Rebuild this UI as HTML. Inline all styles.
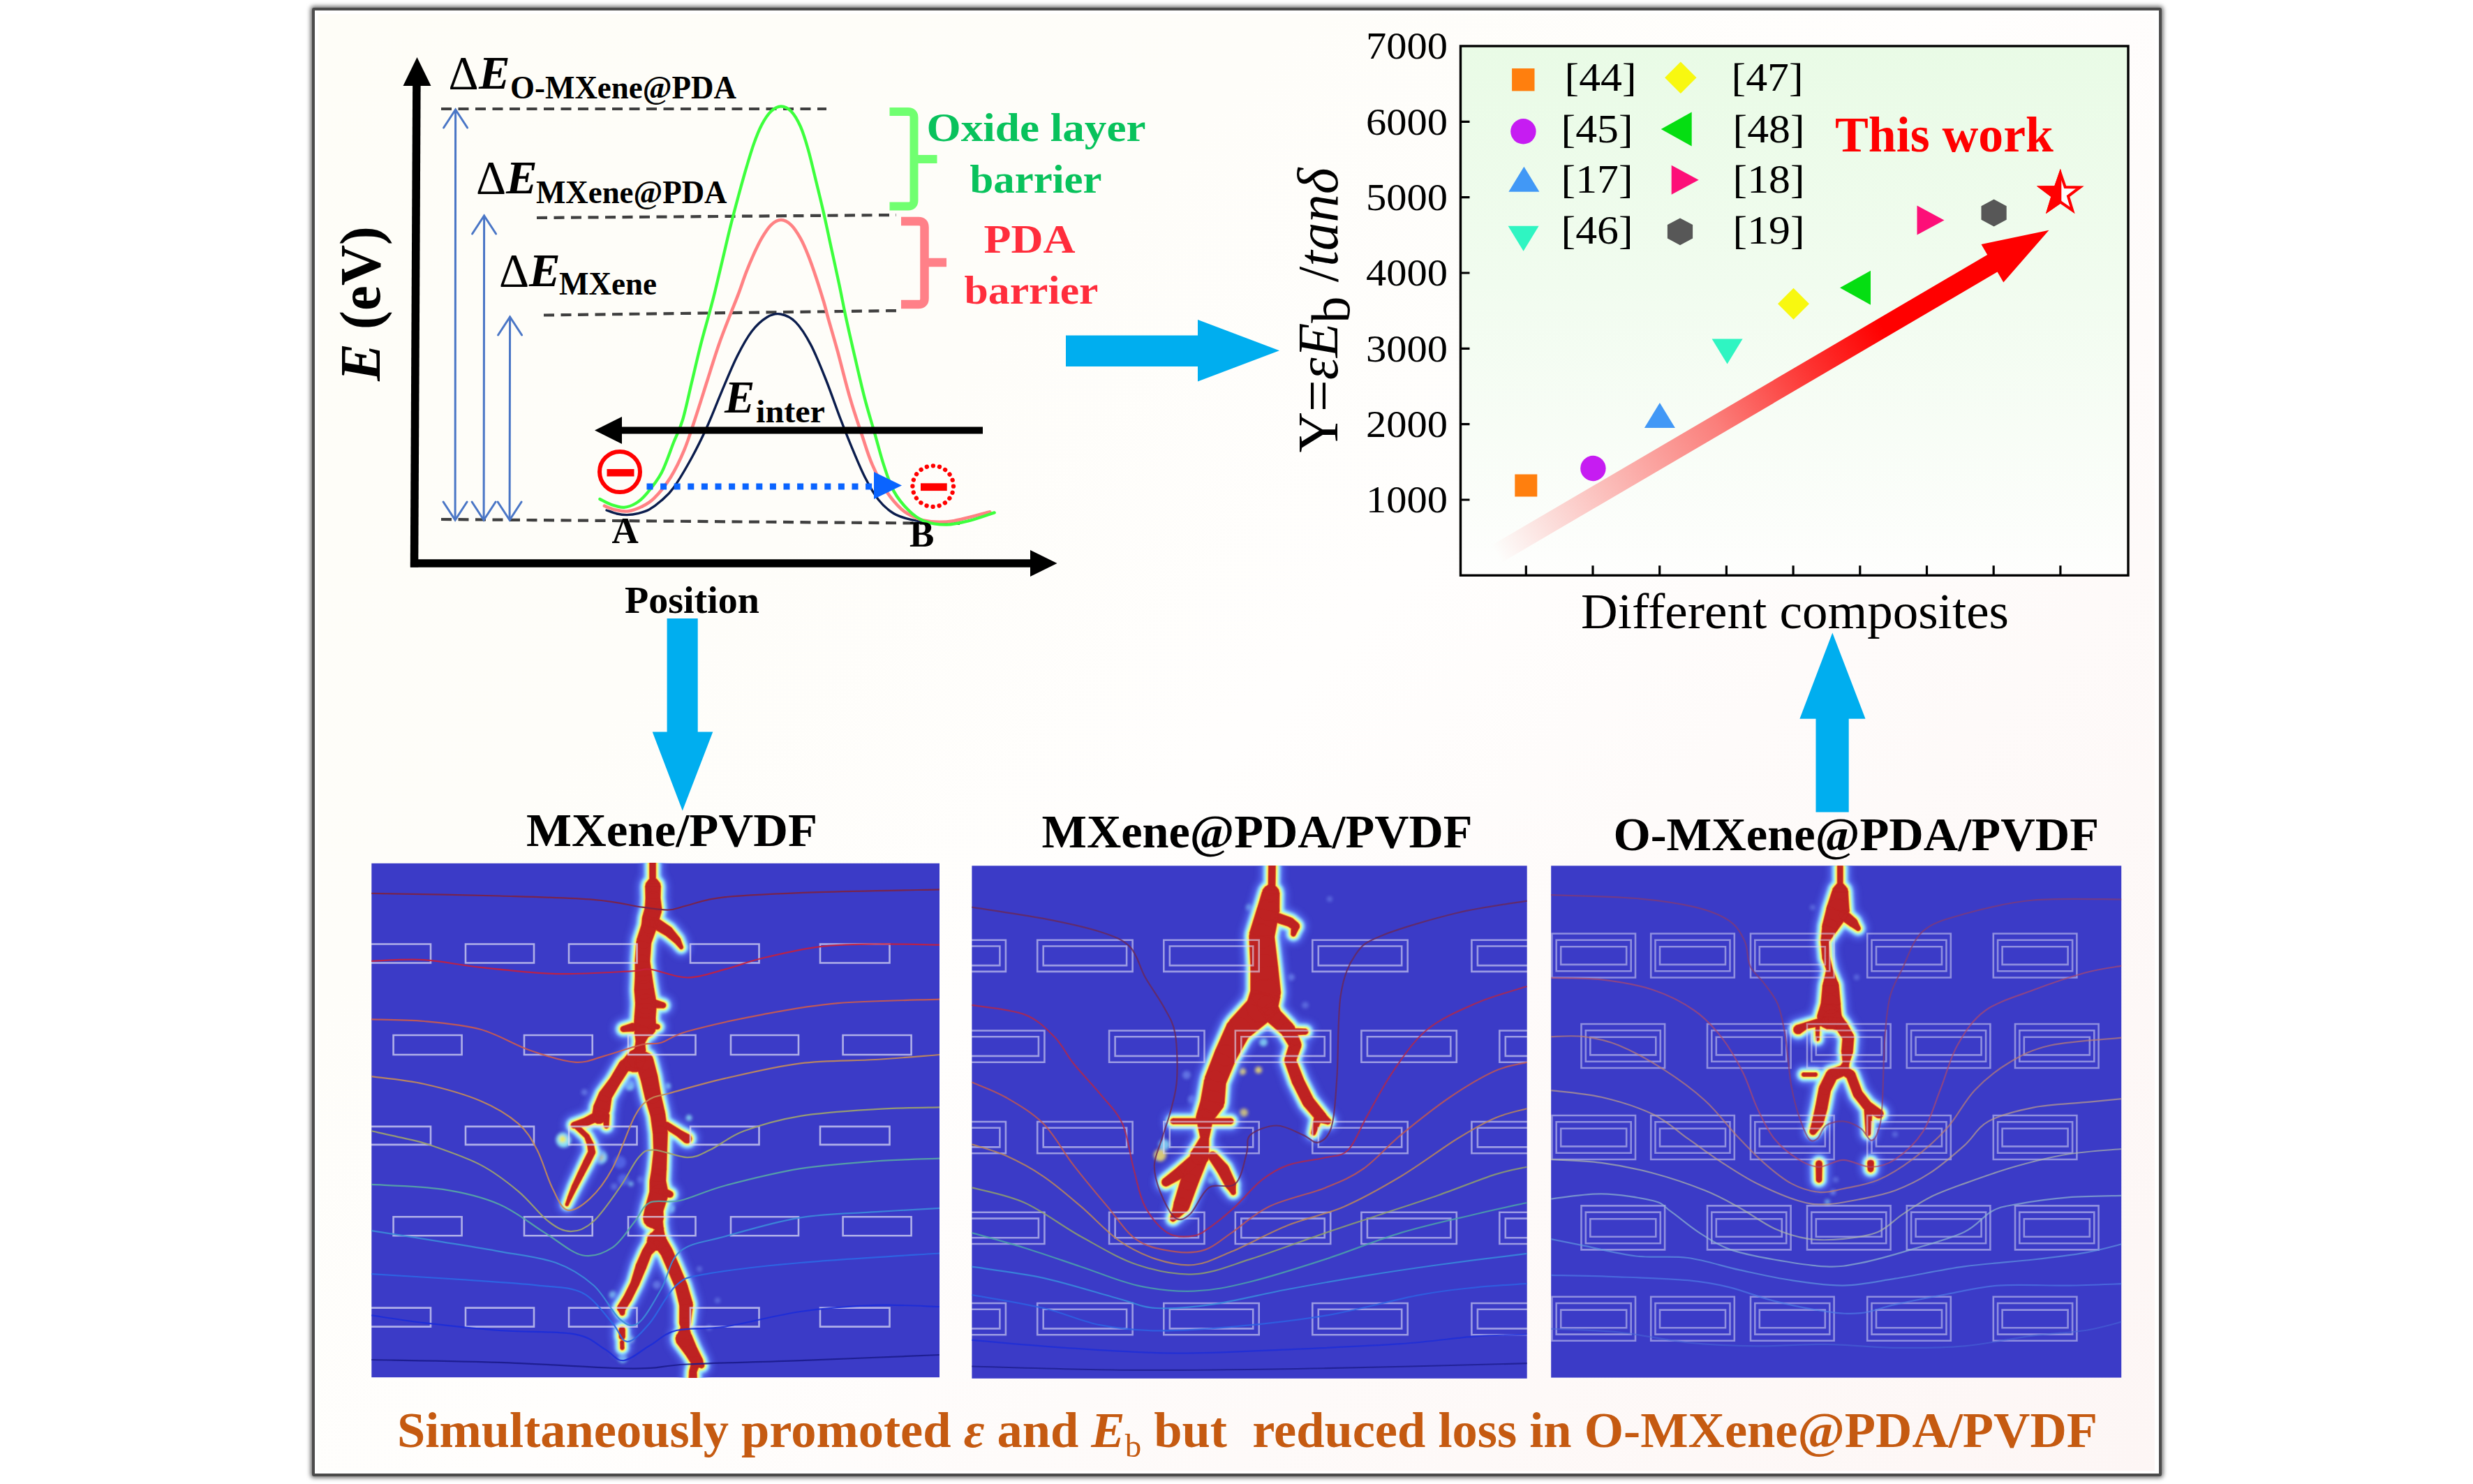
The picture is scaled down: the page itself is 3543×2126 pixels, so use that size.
<!DOCTYPE html>
<html><head><meta charset="utf-8"><title>Graphical abstract</title>
<style>
html,body{margin:0;padding:0;background:#fff;}
body{width:3543px;height:2126px;position:relative;overflow:hidden;font-family:"Liberation Serif",serif;}
#frame{position:absolute;left:447px;top:11px;width:2642px;height:2096px;border:4px solid #4b4b4b;border-radius:3px;background:#fff;box-shadow:0 0 6px 1.5px rgba(0,0,0,.6);}
#inner{position:absolute;left:456px;top:20px;width:2631px;height:2087px;background:linear-gradient(135deg,#fefdf7 0%,#fefdf9 30%,#fffefd 50%,#fefbfa 65%,#fdf6f5 100%);}
svg{position:absolute;left:0;top:0;}
text{font-family:"Liberation Serif",serif;}
.b{font-weight:bold;}
.i{font-style:italic;}
</style></head><body>
<div id="frame"></div><div id="inner"></div>
<svg width="3543" height="2126" viewBox="0 0 3543 2126">

<defs>
<linearGradient id="gchart" x1="0" y1="0" x2="0" y2="1"><stop offset="0" stop-color="#e9fbe6"/><stop offset="0.45" stop-color="#f1fcef"/><stop offset="1" stop-color="#fefefd"/></linearGradient>
<linearGradient id="gred" gradientUnits="userSpaceOnUse" x1="2144" y1="794" x2="2935" y2="330"><stop offset="0" stop-color="#ff0000" stop-opacity="0"/><stop offset="0.1" stop-color="#ff0000" stop-opacity="0.13"/><stop offset="0.4" stop-color="#ff0000" stop-opacity="0.5"/><stop offset="0.57" stop-color="#ff0000" stop-opacity="0.8"/><stop offset="0.7" stop-color="#ff0000" stop-opacity="1"/><stop offset="1" stop-color="#ff0000" stop-opacity="1"/></linearGradient>
<filter id="blur6" x="-20%" y="-20%" width="140%" height="140%"><feGaussianBlur stdDeviation="5"/></filter>
<filter id="blur3" x="-20%" y="-20%" width="140%" height="140%"><feGaussianBlur stdDeviation="2.2"/></filter>
<filter id="blur1" x="-20%" y="-20%" width="140%" height="140%"><feGaussianBlur stdDeviation="1.1"/></filter>
<filter id="soft" x="-5%" y="-5%" width="110%" height="110%"><feGaussianBlur stdDeviation="0.7"/></filter>
</defs>
<g id="energy">
<path d="M632 156 L1184 156" stroke="#3f3f3f" stroke-width="4.2" stroke-dasharray="15 9.5" fill="none"/>
<path d="M769 312 L1284 308" stroke="#3f3f3f" stroke-width="4.2" stroke-dasharray="15 9.5" fill="none"/>
<path d="M779 451.5 L1287 445" stroke="#3f3f3f" stroke-width="4.2" stroke-dasharray="15 9.5" fill="none"/>
<path d="M632 744 L1375 750" stroke="#3f3f3f" stroke-width="4.2" stroke-dasharray="15 9.5" fill="none"/>
<path d="M869.0 731.0C871.5 731.8 879.1 734.9 884.0 736.0C888.9 737.1 893.0 737.7 898.2 737.6C903.4 737.5 909.7 736.6 915.0 735.3C920.3 734.0 924.7 733.0 930.0 730.0C935.3 727.0 941.2 722.7 947.0 717.5C952.8 712.3 957.7 709.1 965.0 698.8C972.3 688.5 983.1 670.1 991.0 655.7C998.9 641.3 1005.3 628.3 1012.5 612.5C1019.7 596.7 1026.8 577.7 1034.0 560.8C1041.2 543.9 1048.5 525.6 1055.7 511.2C1062.9 496.8 1070.0 483.9 1077.2 474.5C1084.4 465.1 1092.0 458.6 1098.8 454.5C1105.6 450.4 1111.3 448.8 1118.2 450.0C1125.1 451.2 1132.8 454.3 1140.0 461.6C1147.2 468.9 1154.4 480.2 1161.6 493.9C1168.8 507.5 1175.9 525.5 1183.1 543.5C1190.3 561.5 1198.2 584.8 1204.7 601.7C1211.2 618.6 1216.2 631.2 1222.0 644.9C1227.8 658.6 1233.1 671.9 1239.2 683.7C1245.3 695.6 1251.8 707.4 1258.6 716.0C1265.4 724.6 1272.7 730.8 1280.2 735.5C1287.8 740.2 1294.9 742.0 1303.9 744.1C1312.9 746.2 1323.7 748.0 1334.0 748.4C1344.3 748.8 1352.3 748.9 1366.0 746.5C1379.7 744.1 1407.7 736.1 1416.0 734.0" fill="none" stroke="#0b1d4d" stroke-width="3.4" stroke-linecap="round"/>
<path d="M865.9 724.7C868.6 725.7 876.2 729.2 882.0 730.5C887.8 731.8 894.2 733.0 900.4 732.2C906.6 731.5 912.9 729.0 919.0 726.0C925.1 723.0 930.0 720.9 937.0 713.9C944.0 706.9 953.6 695.2 960.8 683.7C968.0 672.2 974.5 658.6 980.2 644.9C986.0 631.2 989.9 617.9 995.3 601.7C1000.7 585.5 1006.8 565.8 1012.5 547.8C1018.2 529.8 1024.1 510.3 1029.8 493.9C1035.5 477.5 1042.0 461.6 1046.7 449.5C1051.4 437.4 1054.1 431.3 1057.8 421.4C1061.5 411.5 1065.3 399.8 1069.0 390.2C1072.7 380.6 1076.4 371.8 1080.1 363.6C1083.8 355.5 1087.1 348.2 1091.2 341.3C1095.3 334.4 1100.0 326.7 1104.6 322.3C1109.2 317.9 1114.2 315.0 1119.0 315.0C1123.8 315.0 1128.9 317.9 1133.5 322.3C1138.1 326.7 1142.7 334.1 1146.8 341.3C1150.9 348.6 1154.2 356.5 1157.9 365.8C1161.6 375.1 1165.3 385.8 1169.0 396.9C1172.7 408.0 1177.2 422.5 1180.2 432.5C1183.2 442.5 1183.4 445.0 1186.8 457.0C1190.2 469.0 1195.3 486.0 1200.4 504.7C1205.5 523.4 1211.8 549.6 1217.6 569.4C1223.3 589.2 1229.5 607.1 1234.9 623.3C1240.3 639.5 1244.2 653.1 1250.0 666.4C1255.8 679.7 1262.6 692.7 1269.4 703.1C1276.2 713.5 1283.8 722.5 1291.0 729.0C1298.2 735.5 1305.3 739.0 1312.5 742.0C1319.7 745.0 1325.0 746.6 1334.0 747.3C1343.0 748.0 1352.4 748.5 1366.4 746.2C1380.4 743.9 1409.6 735.4 1418.2 733.3" fill="none" stroke="#ff8284" stroke-width="4.6" stroke-linecap="round"/>
<path d="M859.4 715.0C862.2 716.3 870.2 721.0 876.0 723.0C881.8 725.0 888.2 727.1 894.0 726.8C899.8 726.5 905.6 724.2 911.0 721.0C916.4 717.8 920.2 714.7 926.3 707.4C932.4 700.1 941.3 689.4 947.8 677.2C954.2 665.0 960.0 646.6 965.0 634.0C970.0 621.4 973.7 616.1 978.0 601.7C982.3 587.3 986.7 565.8 991.0 547.8C995.3 529.8 999.6 510.8 1003.9 493.9C1008.2 477.0 1013.4 459.3 1016.8 446.5C1020.2 433.7 1021.4 429.6 1024.5 416.9C1027.6 404.2 1031.9 385.8 1035.6 370.2C1039.3 354.6 1043.0 338.3 1046.7 323.5C1050.4 308.7 1054.1 294.9 1057.8 281.2C1061.5 267.5 1065.3 253.8 1069.0 241.2C1072.7 228.6 1076.4 216.0 1080.1 205.6C1083.8 195.2 1087.1 186.6 1091.2 178.9C1095.3 171.2 1100.0 163.9 1104.6 159.5C1109.2 155.1 1114.2 152.3 1119.0 152.3C1123.8 152.3 1128.9 154.7 1133.5 159.5C1138.1 164.3 1142.7 172.0 1146.8 181.2C1150.9 190.4 1154.2 201.5 1157.9 214.5C1161.6 227.5 1165.3 243.8 1169.0 259.0C1172.7 274.2 1176.5 289.4 1180.2 305.7C1183.9 322.0 1187.6 339.8 1191.3 356.9C1195.0 373.9 1198.9 391.3 1202.4 408.0C1205.9 424.7 1208.9 440.9 1212.4 457.0C1215.9 473.1 1218.9 486.0 1223.2 504.7C1227.5 523.4 1233.4 549.6 1238.5 569.4C1243.6 589.2 1249.3 607.1 1253.9 623.3C1258.5 639.5 1261.8 653.1 1266.2 666.4C1270.6 679.7 1274.3 692.3 1280.2 703.1C1286.1 713.9 1294.5 723.9 1301.7 731.1C1308.9 738.3 1314.3 742.8 1323.3 746.2C1332.3 749.6 1344.9 751.6 1355.7 751.6C1366.5 751.6 1376.5 749.1 1388.0 746.2C1399.5 743.3 1418.6 736.4 1424.7 734.4" fill="none" stroke="#3dff3d" stroke-width="4.3" stroke-linecap="round"/>
<path d="M597 100 L593.5 812.5" stroke="#000" stroke-width="11.5" fill="none"/>
<path d="M597.5 82 L577.5 123 L617.5 123 Z" fill="#000"/>
<path d="M588 807 L1480 807" stroke="#000" stroke-width="11.5" fill="none"/>
<path d="M1514.5 807 L1476 788 L1476 826 Z" fill="#000"/>
<g stroke="#4a76c6" stroke-width="3" fill="none" stroke-linecap="round" stroke-linejoin="miter"><path d="M652.6 158.0 L652.1 744.0"/><path d="M635.6 183.0 L652.6 157.0 L669.6 183.0"/><path d="M635.1 719.0 L652.1 745.0 L669.1 719.0"/></g>
<g stroke="#4a76c6" stroke-width="3" fill="none" stroke-linecap="round" stroke-linejoin="miter"><path d="M693.6 310.0 L693.1 744.0"/><path d="M676.6 335.0 L693.6 309.0 L710.6 335.0"/><path d="M676.1 719.0 L693.1 745.0 L710.1 719.0"/></g>
<g stroke="#4a76c6" stroke-width="3" fill="none" stroke-linecap="round" stroke-linejoin="miter"><path d="M730.6 455.0 L730.1 744.0"/><path d="M713.6 480.0 L730.6 454.0 L747.6 480.0"/><path d="M713.1 719.0 L730.1 745.0 L747.1 719.0"/></g>
<path d="M888 616.5 L1408 616.5" stroke="#000" stroke-width="10" fill="none"/>
<path d="M852 616.5 L891 597 L891 636 Z" fill="#000"/>
<path d="M926.5 697 L1252 697" stroke="#0a64ff" stroke-width="9" stroke-dasharray="9 10.6" fill="none"/>
<path d="M1252 676 L1292 695.5 L1252 715 Z" fill="#0a64ff"/>
<circle cx="888" cy="676" r="29" fill="none" stroke="#ff0000" stroke-width="6"/>
<rect x="869.5" y="672" width="39" height="10.5" fill="#ff0000"/>
<circle cx="1336.7" cy="696.6" r="29.3" fill="none" stroke="#ff0000" stroke-width="6.3" stroke-dasharray="0.1 9.1" stroke-linecap="round"/>
<rect x="1319" y="692.3" width="37.7" height="10.8" fill="#ff0000"/>
<path d="M1274.5 160 L1301 160 Q1309.5 160 1309.5 168.5 L1309.5 287 Q1309.5 295.5 1301 295.5 L1274.5 295.5 M1309.5 228 L1342.5 228" fill="none" stroke="#70ff70" stroke-width="12" stroke-linejoin="round"/>
<path d="M1291 317 L1316 317 Q1324.5 317 1324.5 325.5 L1324.5 427.5 Q1324.5 436 1316 436 L1291 436 M1324.5 376 L1356 376" fill="none" stroke="#ff8088" stroke-width="12.5" stroke-linejoin="round"/>
<text x="642.6" y="127.0" font-size="67.0" class="" fill="#000" text-anchor="start" >Δ</text><text x="686.0" y="127.0" font-size="67.0" class="b i" fill="#000" text-anchor="start" >E</text><text x="731.0" y="141.0" font-size="46.0" class="b" fill="#000" text-anchor="start" textLength="324.0" lengthAdjust="spacingAndGlyphs" >O-MXene@PDA</text>
<text x="682.0" y="276.6" font-size="67.0" class="" fill="#000" text-anchor="start" >Δ</text><text x="725.0" y="276.6" font-size="67.0" class="b i" fill="#000" text-anchor="start" >E</text><text x="768.0" y="290.5" font-size="46.0" class="b" fill="#000" text-anchor="start" textLength="273.5" lengthAdjust="spacingAndGlyphs" >MXene@PDA</text>
<text x="715.0" y="409.5" font-size="67.0" class="" fill="#000" text-anchor="start" >Δ</text><text x="758.0" y="409.5" font-size="67.0" class="b i" fill="#000" text-anchor="start" >E</text><text x="801.0" y="422.0" font-size="46.0" class="b" fill="#000" text-anchor="start" textLength="140.0" lengthAdjust="spacingAndGlyphs" >MXene</text>
<text x="1038.0" y="591.0" font-size="65.0" class="b i" fill="#000" text-anchor="start" >E</text><text x="1083.0" y="604.7" font-size="46.0" class="b" fill="#000" text-anchor="start" textLength="99.0" lengthAdjust="spacingAndGlyphs" >inter</text>
<text x="876.5" y="777.6" font-size="53.0" class="b" fill="#000" text-anchor="start" >A</text>
<text x="1303.0" y="783.0" font-size="53.0" class="b" fill="#000" text-anchor="start" >B</text>
<text x="895.0" y="878.2" font-size="55.0" class="b" fill="#000" text-anchor="start" textLength="193.0" lengthAdjust="spacingAndGlyphs" >Position</text>
<text x="1327.5" y="201.6" font-size="56.0" class="b" fill="#08c25c" text-anchor="start" textLength="314.0" lengthAdjust="spacingAndGlyphs" xml:space="preserve">Oxide layer</text>
<text x="1389.5" y="276.0" font-size="56.0" class="b" fill="#08c25c" text-anchor="start" textLength="189.0" lengthAdjust="spacingAndGlyphs" >barrier</text>
<text x="1409.5" y="361.5" font-size="56.0" class="b" fill="#ff2d3c" text-anchor="start" textLength="131.0" lengthAdjust="spacingAndGlyphs" >PDA</text>
<text x="1381.5" y="435.0" font-size="56.0" class="b" fill="#ff2d3c" text-anchor="start" textLength="192.0" lengthAdjust="spacingAndGlyphs" >barrier</text>
<text transform="translate(543.5 546) rotate(-90)" font-size="82" class="b" textLength="222" lengthAdjust="spacingAndGlyphs"><tspan class="i">E</tspan> (eV)</text>
</g>
<g id="chart">
<rect x="2092.5" y="66.0" width="956.5" height="758.3" fill="url(#gchart)"/>
<path d="M2151.2 805.9 L2861.6 389.6 L2870.3 404.5 L2935.5 329.8 L2838.5 350.1 L2847.2 365.1 L2136.8 781.3 Z" fill="url(#gred)"/>
<rect x="2092.5" y="66.0" width="956.5" height="758.3" fill="none" stroke="#000" stroke-width="3.4"/>
<path d="M2092.5 716.0 h13 M2092.5 607.6 h13 M2092.5 499.3 h13 M2092.5 391.0 h13 M2092.5 282.7 h13 M2092.5 174.3 h13 M2186.3 824.3 v-14 M2282.0 824.3 v-14 M2377.7 824.3 v-14 M2473.4 824.3 v-14 M2569.1 824.3 v-14 M2664.8 824.3 v-14 M2760.5 824.3 v-14 M2856.2 824.3 v-14 M2951.9 824.3 v-14" stroke="#000" stroke-width="3.2" fill="none"/>
<text x="2074.0" y="734.3" font-size="55.0" class="" fill="#000" text-anchor="end" textLength="117.0" lengthAdjust="spacingAndGlyphs" >1000</text>
<text x="2074.0" y="625.9" font-size="55.0" class="" fill="#000" text-anchor="end" textLength="117.0" lengthAdjust="spacingAndGlyphs" >2000</text>
<text x="2074.0" y="517.6" font-size="55.0" class="" fill="#000" text-anchor="end" textLength="117.0" lengthAdjust="spacingAndGlyphs" >3000</text>
<text x="2074.0" y="409.3" font-size="55.0" class="" fill="#000" text-anchor="end" textLength="117.0" lengthAdjust="spacingAndGlyphs" >4000</text>
<text x="2074.0" y="301.0" font-size="55.0" class="" fill="#000" text-anchor="end" textLength="117.0" lengthAdjust="spacingAndGlyphs" >5000</text>
<text x="2074.0" y="192.6" font-size="55.0" class="" fill="#000" text-anchor="end" textLength="117.0" lengthAdjust="spacingAndGlyphs" >6000</text>
<text x="2074.0" y="84.3" font-size="55.0" class="" fill="#000" text-anchor="end" textLength="117.0" lengthAdjust="spacingAndGlyphs" >7000</text>
<rect x="2170.3" y="679.5" width="32.0" height="32.0" fill="#ff7f0e"/>
<circle cx="2282.4" cy="671.0" r="18.2" fill="#c61cf2"/>
<path d="M2377.9 577.0 L2355.9 613.0 L2399.9 613.0 Z" fill="#4198f6"/>
<path d="M2474.6 521.5 L2452.6 485.5 L2496.6 485.5 Z" fill="#2ff5c2"/>
<path d="M2569.5 412.8 L2592.0 435.3 L2569.5 457.8 L2547.0 435.3 Z" fill="#f8f810"/>
<path d="M2636.0 412.3 L2680.0 387.8 L2680.0 436.8 Z" fill="#05de12"/>
<path d="M2785.5 315.4 L2746.5 294.4 L2746.5 336.4 Z" fill="#fd0f78"/>
<path d="M2856.6 285.6 L2874.7 295.3 L2874.7 314.7 L2856.6 324.4 L2838.5 314.7 L2838.5 295.3 Z" fill="#575757"/>
<clipPath id="sclip"><rect x="2910.3" y="236.0" width="43.0" height="83.0"/></clipPath><path d="M2951.8 248.0 L2958.7 268.0 L2979.9 268.4 L2963.0 281.1 L2969.1 301.4 L2951.8 289.3 L2934.5 301.4 L2940.6 281.1 L2923.7 268.4 L2944.9 268.0 Z" fill="#fdfdfd" stroke="#ff0000" stroke-width="4" stroke-linejoin="miter"/><path d="M2951.8 248.0 L2958.7 268.0 L2979.9 268.4 L2963.0 281.1 L2969.1 301.4 L2951.8 289.3 L2934.5 301.4 L2940.6 281.1 L2923.7 268.4 L2944.9 268.0 Z" fill="#ff0000" stroke="#ff0000" stroke-width="4" clip-path="url(#sclip)"/>
<rect x="2166.1" y="98.0" width="32.4" height="32.4" fill="#ff7f0e"/>
<path d="M2407.8 88.6 L2430.5 111.3 L2407.8 134.0 L2385.1 111.3 Z" fill="#f8f810"/>
<circle cx="2182.4" cy="188.3" r="18.2" fill="#c61cf2"/>
<path d="M2379.7 185.0 L2423.7 160.5 L2423.7 209.5 Z" fill="#05de12"/>
<path d="M2183.4 238.7 L2161.4 274.7 L2205.4 274.7 Z" fill="#4198f6"/>
<path d="M2433.7 257.8 L2394.7 236.8 L2394.7 278.8 Z" fill="#fd0f78"/>
<path d="M2182.6 359.8 L2160.6 323.8 L2204.6 323.8 Z" fill="#2ff5c2"/>
<path d="M2407.0 312.4 L2425.1 322.1 L2425.1 341.5 L2407.0 351.2 L2388.9 341.5 L2388.9 322.1 Z" fill="#575757"/>
<text x="2241.6" y="130.0" font-size="58.0" class="" fill="#000" text-anchor="start" textLength="103.0" lengthAdjust="spacingAndGlyphs" >[44]</text>
<text x="2236.6" y="204.0" font-size="58.0" class="" fill="#000" text-anchor="start" textLength="103.0" lengthAdjust="spacingAndGlyphs" >[45]</text>
<text x="2236.6" y="275.5" font-size="58.0" class="" fill="#000" text-anchor="start" textLength="103.0" lengthAdjust="spacingAndGlyphs" >[17]</text>
<text x="2236.6" y="349.0" font-size="58.0" class="" fill="#000" text-anchor="start" textLength="103.0" lengthAdjust="spacingAndGlyphs" >[46]</text>
<text x="2480.6" y="130.0" font-size="58.0" class="" fill="#000" text-anchor="start" textLength="103.0" lengthAdjust="spacingAndGlyphs" >[47]</text>
<text x="2482.6" y="204.0" font-size="58.0" class="" fill="#000" text-anchor="start" textLength="103.0" lengthAdjust="spacingAndGlyphs" >[48]</text>
<text x="2482.6" y="275.5" font-size="58.0" class="" fill="#000" text-anchor="start" textLength="103.0" lengthAdjust="spacingAndGlyphs" >[18]</text>
<text x="2482.6" y="349.0" font-size="58.0" class="" fill="#000" text-anchor="start" textLength="103.0" lengthAdjust="spacingAndGlyphs" >[19]</text>
<text x="2629.0" y="217.0" font-size="72.0" class="b" fill="#ff0000" text-anchor="start" textLength="313.0" lengthAdjust="spacingAndGlyphs" >This work</text>
<text x="2265.0" y="900.0" font-size="72.0" class="" fill="#000" text-anchor="start" textLength="613.0" lengthAdjust="spacingAndGlyphs" >Different composites</text>
<text transform="translate(1916 648.5) rotate(-90)" font-size="83" textLength="408" lengthAdjust="spacingAndGlyphs">Y=<tspan class="i">εE</tspan><tspan font-size="78" dy="17">b</tspan><tspan dy="-17"> /</tspan><tspan class="i">tanδ</tspan></text>
</g>
<clipPath id="clip1"><rect x="532.3" y="1236.8" width="813.7" height="736.4"/></clipPath>
<rect x="532.3" y="1236.8" width="813.7" height="736.4" fill="#3b3bc7"/>
<g clip-path="url(#clip1)">
<defs><path id="tree1" d="M939.0 1232.0L938.6 1233.7L937.5 1235.1L935.9 1235.9L934.1 1235.9L932.5 1235.1L931.4 1233.7L931.0 1232.0L931.4 1230.3L932.5 1228.9L934.1 1228.1L935.9 1228.1L937.5 1228.9L938.6 1230.3ZM939.0 1232.0L939.0 1262.0L931.0 1262.0L931.0 1232.0ZM939.0 1262.0L938.6 1263.7L937.5 1265.1L935.9 1265.9L934.1 1265.9L932.5 1265.1L931.4 1263.7L931.0 1262.0L931.4 1260.3L932.5 1258.9L934.1 1258.1L935.9 1258.1L937.5 1258.9L938.6 1260.3ZM943.5 1266.0L942.7 1269.5L940.5 1272.3L937.3 1273.8L933.7 1273.8L930.5 1272.3L928.3 1269.5L927.5 1266.0L928.3 1262.5L930.5 1259.7L933.7 1258.2L937.3 1258.2L940.5 1259.7L942.7 1262.5ZM943.5 1266.0L946.0 1270.0L925.0 1270.0L927.5 1266.0ZM946.0 1270.0L945.0 1274.6L942.0 1278.2L937.8 1280.2L933.2 1280.2L929.0 1278.2L926.0 1274.6L925.0 1270.0L926.0 1265.4L929.0 1261.8L933.2 1259.8L937.8 1259.8L942.0 1261.8L945.0 1265.4ZM946.0 1270.0L945.5 1286.6L925.5 1286.6L925.0 1270.0ZM945.5 1286.6L944.5 1290.9L941.7 1294.4L937.7 1296.3L933.3 1296.3L929.3 1294.4L926.5 1290.9L925.5 1286.6L926.5 1282.3L929.3 1278.8L933.3 1276.9L937.7 1276.9L941.7 1278.8L944.5 1282.3ZM945.5 1286.3L947.5 1302.3L924.5 1303.1L925.5 1286.9ZM947.5 1302.7L946.4 1307.7L943.2 1311.7L938.6 1313.9L933.4 1313.9L928.8 1311.7L925.6 1307.7L924.5 1302.7L925.6 1297.7L928.8 1293.7L933.4 1291.5L938.6 1291.5L943.2 1293.7L946.4 1297.7ZM947.1 1305.8L943.1 1320.1L920.9 1313.9L924.9 1299.6ZM943.5 1317.0L942.4 1322.0L939.2 1326.0L934.6 1328.2L929.4 1328.2L924.8 1326.0L921.6 1322.0L920.5 1317.0L921.6 1312.0L924.8 1308.0L929.4 1305.8L934.6 1305.8L939.2 1308.0L942.4 1312.0ZM943.3 1319.3L940.3 1329.1L919.7 1324.9L920.7 1314.7ZM940.5 1327.0L939.5 1331.6L936.5 1335.2L932.3 1337.2L927.7 1337.2L923.5 1335.2L920.5 1331.6L919.5 1327.0L920.5 1322.4L923.5 1318.8L927.7 1316.8L932.3 1316.8L936.5 1318.8L939.5 1322.4ZM939.9 1330.4L931.9 1352.4L912.9 1346.0L920.1 1323.6ZM932.4 1349.2L931.4 1353.5L928.6 1357.0L924.6 1358.9L920.2 1358.9L916.2 1357.0L913.4 1353.5L912.4 1349.2L913.4 1344.9L916.2 1341.4L920.2 1339.5L924.6 1339.5L928.6 1341.4L931.4 1344.9ZM932.4 1349.9L930.4 1378.3L910.4 1376.9L912.4 1348.5ZM930.4 1377.6L929.4 1381.9L926.6 1385.4L922.6 1387.3L918.2 1387.3L914.2 1385.4L911.4 1381.9L910.4 1377.6L911.4 1373.3L914.2 1369.8L918.2 1367.9L922.6 1367.9L926.6 1369.8L929.4 1373.3ZM930.4 1376.9L933.4 1396.9L910.4 1398.7L910.4 1378.3ZM933.4 1397.8L932.3 1402.8L929.1 1406.8L924.5 1409.0L919.3 1409.0L914.7 1406.8L911.5 1402.8L910.4 1397.8L911.5 1392.8L914.7 1388.8L919.3 1386.6L924.5 1386.6L929.1 1388.8L932.3 1392.8ZM933.4 1397.2L936.4 1417.3L909.4 1418.7L910.4 1398.4ZM936.4 1418.0L935.1 1423.9L931.3 1428.6L925.9 1431.2L919.9 1431.2L914.5 1428.6L910.7 1423.9L909.4 1418.0L910.7 1412.1L914.5 1407.4L919.9 1404.8L925.9 1404.8L931.3 1407.4L935.1 1412.1ZM936.3 1416.3L939.9 1436.3L911.1 1440.1L909.5 1419.7ZM940.0 1438.2L938.6 1444.5L934.5 1449.5L928.7 1452.3L922.3 1452.3L916.5 1449.5L912.4 1444.5L911.0 1438.2L912.4 1431.9L916.5 1426.9L922.3 1424.1L928.7 1424.1L934.5 1426.9L938.6 1431.9ZM940.0 1439.3L938.5 1459.5L909.5 1457.3L911.0 1437.1ZM938.5 1458.4L937.1 1464.7L933.0 1469.7L927.2 1472.5L920.8 1472.5L915.0 1469.7L910.9 1464.7L909.5 1458.4L910.9 1452.1L915.0 1447.1L920.8 1444.3L927.2 1444.3L933.0 1447.1L937.1 1452.1ZM938.5 1458.4L939.5 1470.6L908.5 1470.6L909.5 1458.4ZM939.5 1470.6L938.0 1477.3L933.7 1482.7L927.4 1485.7L920.6 1485.7L914.3 1482.7L910.0 1477.3L908.5 1470.6L910.0 1463.9L914.3 1458.5L920.6 1455.5L927.4 1455.5L933.7 1458.5L938.0 1463.9ZM938.1 1477.0L929.6 1483.8L910.4 1475.2L909.9 1464.2ZM930.5 1479.5L929.5 1484.1L926.5 1487.7L922.3 1489.7L917.7 1489.7L913.5 1487.7L910.5 1484.1L909.5 1479.5L910.5 1474.9L913.5 1471.3L917.7 1469.3L922.3 1469.3L926.5 1471.3L929.5 1474.9ZM930.3 1481.6L923.2 1494.0L911.4 1491.6L909.7 1477.4ZM923.3 1492.8L922.7 1495.4L921.0 1497.5L918.6 1498.6L916.0 1498.6L913.6 1497.5L911.9 1495.4L911.3 1492.8L911.9 1490.2L913.6 1488.1L916.0 1487.0L918.6 1487.0L921.0 1488.1L922.7 1490.2ZM923.3 1492.9L924.5 1505.2L909.5 1504.8L911.3 1492.7ZM924.5 1505.0L923.8 1508.3L921.7 1510.9L918.7 1512.3L915.3 1512.3L912.3 1510.9L910.2 1508.3L909.5 1505.0L910.2 1501.7L912.3 1499.1L915.3 1497.7L918.7 1497.7L921.7 1499.1L923.8 1501.7ZM923.9 1507.9L924.5 1522.2L899.5 1511.8L910.1 1502.1ZM925.5 1517.0L924.2 1522.9L920.4 1527.6L915.0 1530.2L909.0 1530.2L903.6 1527.6L899.8 1522.9L898.5 1517.0L899.8 1511.1L903.6 1506.4L909.0 1503.8L915.0 1503.8L920.4 1506.4L924.2 1511.1ZM945.5 1322.0L944.8 1325.3L942.7 1327.9L939.7 1329.3L936.3 1329.3L933.3 1327.9L931.2 1325.3L930.5 1322.0L931.2 1318.7L933.3 1316.1L936.3 1314.7L939.7 1314.7L942.7 1316.1L944.8 1318.7ZM942.0 1315.7L960.5 1328.5L953.5 1339.5L934.0 1328.3ZM963.5 1334.0L962.9 1336.8L961.1 1339.1L958.4 1340.3L955.6 1340.3L952.9 1339.1L951.1 1336.8L950.5 1334.0L951.1 1331.2L952.9 1328.9L955.6 1327.7L958.4 1327.7L961.1 1328.9L962.9 1331.2ZM961.6 1329.4L973.2 1343.8L966.8 1350.2L952.4 1338.6ZM974.5 1347.0L974.1 1349.0L972.8 1350.5L971.0 1351.4L969.0 1351.4L967.2 1350.5L965.9 1349.0L965.5 1347.0L965.9 1345.0L967.2 1343.5L969.0 1342.6L971.0 1342.6L972.8 1343.5L974.1 1345.0ZM973.9 1344.7L977.9 1355.8L974.1 1358.2L966.1 1349.3ZM978.2 1357.0L978.0 1358.0L977.4 1358.8L976.5 1359.2L975.5 1359.2L974.6 1358.8L974.0 1358.0L973.8 1357.0L974.0 1356.0L974.6 1355.2L975.5 1354.8L976.5 1354.8L977.4 1355.2L978.0 1356.0ZM943.5 1438.0L943.0 1440.4L941.4 1442.3L939.2 1443.4L936.8 1443.4L934.6 1442.3L933.0 1440.4L932.5 1438.0L933.0 1435.6L934.6 1433.7L936.8 1432.6L939.2 1432.6L941.4 1433.7L943.0 1435.6ZM939.0 1432.6L950.6 1436.8L949.4 1443.6L937.0 1443.4ZM953.5 1440.2L953.2 1441.7L952.2 1442.9L950.8 1443.6L949.2 1443.6L947.8 1442.9L946.8 1441.7L946.5 1440.2L946.8 1438.7L947.8 1437.5L949.2 1436.8L950.8 1436.8L952.2 1437.5L953.2 1438.7ZM912.2 1471.6L911.7 1474.0L910.1 1475.9L907.9 1477.0L905.5 1477.0L903.3 1475.9L901.7 1474.0L901.2 1471.6L901.7 1469.2L903.3 1467.3L905.5 1466.2L907.9 1466.2L910.1 1467.3L911.7 1469.2ZM907.7 1477.0L893.7 1477.6L892.3 1470.8L905.7 1466.2ZM896.5 1474.2L896.2 1475.7L895.2 1476.9L893.8 1477.6L892.2 1477.6L890.8 1476.9L889.8 1475.7L889.5 1474.2L889.8 1472.7L890.8 1471.5L892.2 1470.8L893.8 1470.8L895.2 1471.5L896.2 1472.7ZM938.5 1470.0L938.1 1472.0L936.8 1473.5L935.0 1474.4L933.0 1474.4L931.2 1473.5L929.9 1472.0L929.5 1470.0L929.9 1468.0L931.2 1466.5L933.0 1465.6L935.0 1465.6L936.8 1466.5L938.1 1468.0ZM934.6 1465.5L942.4 1468.0L941.6 1474.0L933.4 1474.5ZM945.0 1471.0L944.7 1472.3L943.9 1473.3L942.7 1473.9L941.3 1473.9L940.1 1473.3L939.3 1472.3L939.0 1471.0L939.3 1469.7L940.1 1468.7L941.3 1468.1L942.7 1468.1L943.9 1468.7L944.7 1469.7ZM923.5 1521.0L922.1 1527.3L918.0 1532.3L912.2 1535.1L905.8 1535.1L900.0 1532.3L895.9 1527.3L894.5 1521.0L895.9 1514.7L900.0 1509.7L905.8 1506.9L912.2 1506.9L918.0 1509.7L922.1 1514.7ZM914.1 1534.6L897.8 1533.8L892.2 1518.8L903.9 1507.4ZM903.0 1526.3L902.2 1529.8L900.0 1532.6L896.8 1534.1L893.2 1534.1L890.0 1532.6L887.8 1529.8L887.0 1526.3L887.8 1522.8L890.0 1520.0L893.2 1518.5L896.8 1518.5L900.0 1520.0L902.2 1522.8ZM901.8 1530.5L887.4 1552.9L874.6 1545.1L888.2 1522.1ZM888.5 1549.0L887.8 1552.3L885.7 1554.9L882.7 1556.3L879.3 1556.3L876.3 1554.9L874.2 1552.3L873.5 1549.0L874.2 1545.7L876.3 1543.1L879.3 1541.7L882.7 1541.7L885.7 1543.1L887.8 1545.7ZM887.2 1553.2L874.5 1575.0L859.5 1565.0L874.8 1544.8ZM876.0 1570.0L875.1 1573.9L872.6 1577.0L869.0 1578.8L865.0 1578.8L861.4 1577.0L858.9 1573.9L858.0 1570.0L858.9 1566.1L861.4 1563.0L865.0 1561.2L869.0 1561.2L872.6 1563.0L875.1 1566.1ZM875.7 1572.4L873.1 1591.1L850.9 1584.9L858.3 1567.6ZM873.5 1588.0L872.4 1593.0L869.2 1597.0L864.6 1599.2L859.4 1599.2L854.8 1597.0L851.6 1593.0L850.5 1588.0L851.6 1583.0L854.8 1579.0L859.4 1576.8L864.6 1576.8L869.2 1579.0L872.4 1583.0ZM872.9 1591.6L867.0 1603.0L849.0 1597.0L851.1 1584.4ZM867.5 1600.0L866.6 1604.1L863.9 1607.4L860.1 1609.3L855.9 1609.3L852.1 1607.4L849.4 1604.1L848.5 1600.0L849.4 1595.9L852.1 1592.6L855.9 1590.7L860.1 1590.7L863.9 1592.6L866.6 1595.9ZM872.5 1598.0L872.1 1600.0L870.8 1601.5L869.0 1602.4L867.0 1602.4L865.2 1601.5L863.9 1600.0L863.5 1598.0L863.9 1596.0L865.2 1594.5L867.0 1593.6L869.0 1593.6L870.8 1594.5L872.1 1596.0ZM872.5 1597.8L871.8 1612.8L865.8 1613.2L863.5 1598.2ZM871.8 1613.0L871.5 1614.3L870.7 1615.3L869.5 1615.9L868.1 1615.9L866.9 1615.3L866.1 1614.3L865.8 1613.0L866.1 1611.7L866.9 1610.7L868.1 1610.1L869.5 1610.1L870.7 1610.7L871.5 1611.7ZM864.5 1598.0L863.9 1600.8L862.1 1603.1L859.4 1604.3L856.6 1604.3L853.9 1603.1L852.1 1600.8L851.5 1598.0L852.1 1595.2L853.9 1592.9L856.6 1591.7L859.4 1591.7L862.1 1592.9L863.9 1595.2ZM860.9 1603.8L842.5 1611.9L837.5 1602.1L855.1 1592.2ZM845.5 1607.0L845.0 1609.4L843.4 1611.3L841.2 1612.4L838.8 1612.4L836.6 1611.3L835.0 1609.4L834.5 1607.0L835.0 1604.6L836.6 1602.7L838.8 1601.6L841.2 1601.6L843.4 1602.7L845.0 1604.6ZM841.5 1612.3L823.6 1615.8L821.4 1608.2L838.5 1601.7ZM826.5 1612.0L826.1 1613.7L825.0 1615.1L823.4 1615.9L821.6 1615.9L820.0 1615.1L818.9 1613.7L818.5 1612.0L818.9 1610.3L820.0 1608.9L821.6 1608.1L823.4 1608.1L825.0 1608.9L826.1 1610.3ZM829.0 1614.0L828.7 1615.3L827.9 1616.3L826.7 1616.9L825.3 1616.9L824.1 1616.3L823.3 1615.3L823.0 1614.0L823.3 1612.7L824.1 1611.7L825.3 1611.1L826.7 1611.1L827.9 1611.7L828.7 1612.7ZM828.1 1611.8L842.9 1625.7L838.7 1630.1L823.9 1616.2ZM843.8 1627.9L843.5 1629.2L842.7 1630.2L841.5 1630.8L840.1 1630.8L838.9 1630.2L838.1 1629.2L837.8 1627.9L838.1 1626.6L838.9 1625.6L840.1 1625.0L841.5 1625.0L842.7 1625.6L843.5 1626.6ZM843.6 1626.7L849.7 1638.4L842.3 1641.6L838.0 1629.1ZM850.0 1640.0L849.6 1641.7L848.5 1643.1L846.9 1643.9L845.1 1643.9L843.5 1643.1L842.4 1641.7L842.0 1640.0L842.4 1638.3L843.5 1636.9L845.1 1636.1L846.9 1636.1L848.5 1636.9L849.6 1638.3ZM849.9 1639.3L852.2 1650.0L843.4 1651.4L842.1 1640.7ZM852.3 1650.7L851.9 1652.7L850.6 1654.2L848.8 1655.1L846.8 1655.1L845.0 1654.2L843.7 1652.7L843.3 1650.7L843.7 1648.7L845.0 1647.2L846.8 1646.3L848.8 1646.3L850.6 1647.2L851.9 1648.7ZM851.8 1652.7L844.8 1666.7L836.8 1662.7L843.8 1648.7ZM845.3 1664.7L844.9 1666.7L843.6 1668.2L841.8 1669.1L839.8 1669.1L838.0 1668.2L836.7 1666.7L836.3 1664.7L836.7 1662.7L838.0 1661.2L839.8 1660.3L841.8 1660.3L843.6 1661.2L844.9 1662.7ZM844.8 1666.7L835.6 1684.0L828.4 1680.4L836.8 1662.7ZM836.0 1682.2L835.6 1683.9L834.5 1685.3L832.9 1686.1L831.1 1686.1L829.5 1685.3L828.4 1683.9L828.0 1682.2L828.4 1680.5L829.5 1679.1L831.1 1678.3L832.9 1678.3L834.5 1679.1L835.6 1680.5ZM835.6 1684.0L826.4 1701.3L820.2 1698.1L828.4 1680.4ZM826.8 1699.7L826.5 1701.2L825.5 1702.4L824.1 1703.1L822.5 1703.1L821.1 1702.4L820.1 1701.2L819.8 1699.7L820.1 1698.2L821.1 1697.0L822.5 1696.3L824.1 1696.3L825.5 1697.0L826.5 1698.2ZM826.5 1701.1L818.6 1716.5L814.0 1714.5L820.1 1698.3ZM818.8 1715.5L818.6 1716.6L817.9 1717.5L816.9 1717.9L815.7 1717.9L814.7 1717.5L814.0 1716.6L813.8 1715.5L814.0 1714.4L814.7 1713.5L815.7 1713.1L816.9 1713.1L817.9 1713.5L818.6 1714.4ZM818.6 1716.4L813.8 1726.2L810.6 1724.8L814.0 1714.6ZM814.0 1725.5L813.8 1726.3L813.3 1726.9L812.6 1727.2L811.8 1727.2L811.1 1726.9L810.6 1726.3L810.5 1725.5L810.6 1724.7L811.1 1724.1L811.8 1723.8L812.6 1723.8L813.3 1724.1L813.8 1724.7ZM925.5 1517.0L924.2 1522.9L920.4 1527.6L915.0 1530.2L909.0 1530.2L903.6 1527.6L899.8 1522.9L898.5 1517.0L899.8 1511.1L903.6 1506.4L909.0 1503.8L915.0 1503.8L920.4 1506.4L924.2 1511.1ZM915.6 1504.0L926.3 1507.9L919.7 1532.1L908.4 1530.0ZM935.5 1520.0L934.3 1525.4L930.8 1529.8L925.8 1532.2L920.2 1532.2L915.2 1529.8L911.7 1525.4L910.5 1520.0L911.7 1514.6L915.2 1510.2L920.2 1507.8L925.8 1507.8L930.8 1510.2L934.3 1514.6ZM935.0 1516.5L941.3 1540.5L918.7 1547.1L911.0 1523.5ZM941.8 1543.8L940.6 1548.9L937.3 1553.0L932.6 1555.3L927.4 1555.3L922.7 1553.0L919.4 1548.9L918.2 1543.8L919.4 1538.7L922.7 1534.6L927.4 1532.3L932.6 1532.3L937.3 1534.6L940.6 1538.7ZM941.5 1541.4L946.2 1567.8L924.6 1572.2L918.5 1546.2ZM946.4 1570.0L945.3 1574.8L942.3 1578.6L937.8 1580.7L933.0 1580.7L928.5 1578.6L925.5 1574.8L924.4 1570.0L925.5 1565.2L928.5 1561.4L933.0 1559.3L937.8 1559.3L942.3 1561.4L945.3 1565.2ZM946.0 1567.2L952.1 1593.8L932.7 1599.0L924.8 1572.8ZM952.4 1596.4L951.4 1600.7L948.6 1604.2L944.6 1606.1L940.2 1606.1L936.2 1604.2L933.4 1600.7L932.4 1596.4L933.4 1592.1L936.2 1588.6L940.2 1586.7L944.6 1586.7L948.6 1588.6L951.4 1592.1ZM952.3 1595.0L955.9 1621.2L936.1 1624.0L932.5 1597.8ZM956.0 1622.6L955.0 1626.9L952.2 1630.4L948.2 1632.3L943.8 1632.3L939.8 1630.4L937.0 1626.9L936.0 1622.6L937.0 1618.3L939.8 1614.8L943.8 1612.9L948.2 1612.9L952.2 1614.8L955.0 1618.3ZM956.0 1622.6L955.0 1649.0L937.0 1649.0L936.0 1622.6ZM955.0 1649.0L954.1 1652.9L951.6 1656.0L948.0 1657.8L944.0 1657.8L940.4 1656.0L937.9 1652.9L937.0 1649.0L937.9 1645.1L940.4 1642.0L944.0 1640.2L948.0 1640.2L951.6 1642.0L954.1 1645.1ZM955.0 1649.6L954.2 1675.9L934.2 1674.5L937.0 1648.4ZM954.2 1675.2L953.2 1679.5L950.4 1683.0L946.4 1684.9L942.0 1684.9L938.0 1683.0L935.2 1679.5L934.2 1675.2L935.2 1670.9L938.0 1667.4L942.0 1665.5L946.4 1665.5L950.4 1667.4L953.2 1670.9ZM954.1 1676.2L953.3 1693.8L931.5 1691.6L934.3 1674.2ZM953.4 1692.7L952.3 1697.5L949.3 1701.3L944.8 1703.4L940.0 1703.4L935.5 1701.3L932.5 1697.5L931.4 1692.7L932.5 1687.9L935.5 1684.1L940.0 1682.0L944.8 1682.0L949.3 1684.1L952.3 1687.9ZM953.4 1691.7L956.9 1708.8L931.1 1711.2L931.4 1693.7ZM957.0 1710.0L955.7 1715.6L952.1 1720.2L946.9 1722.7L941.1 1722.7L935.9 1720.2L932.3 1715.6L931.0 1710.0L932.3 1704.4L935.9 1699.8L941.1 1697.3L946.9 1697.3L952.1 1699.8L955.7 1704.4ZM956.4 1713.8L949.0 1736.6L925.0 1729.4L931.6 1706.2ZM949.5 1733.0L948.3 1738.4L944.8 1742.8L939.8 1745.2L934.2 1745.2L929.2 1742.8L925.7 1738.4L924.5 1733.0L925.7 1727.6L929.2 1723.2L934.2 1720.8L939.8 1720.8L944.8 1723.2L948.3 1727.6ZM949.5 1734.0L950.0 1746.2L922.0 1743.8L924.5 1732.0ZM950.0 1745.0L948.6 1751.1L944.7 1755.9L939.1 1758.6L932.9 1758.6L927.3 1755.9L923.4 1751.1L922.0 1745.0L923.4 1738.9L927.3 1734.1L932.9 1731.4L939.1 1731.4L944.7 1734.1L948.6 1738.9ZM947.9 1737.7L949.7 1757.7L941.1 1762.9L924.1 1752.3ZM950.4 1760.3L949.9 1762.5L948.5 1764.2L946.5 1765.2L944.3 1765.2L942.3 1764.2L940.9 1762.5L940.4 1760.3L940.9 1758.1L942.3 1756.4L944.3 1755.4L946.5 1755.4L948.5 1756.4L949.9 1758.1ZM950.2 1761.5L954.1 1781.1L927.9 1774.5L940.6 1759.1ZM954.5 1777.8L953.2 1783.7L949.4 1788.4L944.0 1791.0L938.0 1791.0L932.6 1788.4L928.8 1783.7L927.5 1777.8L928.8 1771.9L932.6 1767.2L938.0 1764.6L944.0 1764.6L949.4 1767.2L953.2 1771.9ZM959.2 1612.1L958.8 1614.1L957.5 1615.6L955.7 1616.5L953.7 1616.5L951.9 1615.6L950.6 1614.1L950.2 1612.1L950.6 1610.1L951.9 1608.6L953.7 1607.7L955.7 1607.7L957.5 1608.6L958.8 1610.1ZM957.1 1608.3L974.4 1619.2L969.6 1626.8L952.3 1615.9ZM976.5 1623.0L976.1 1625.0L974.8 1626.5L973.0 1627.4L971.0 1627.4L969.2 1626.5L967.9 1625.0L967.5 1623.0L967.9 1621.0L969.2 1619.5L971.0 1618.6L973.0 1618.6L974.8 1619.5L976.1 1621.0ZM974.5 1619.3L987.8 1626.4L981.2 1636.4L969.5 1626.7ZM990.5 1631.4L989.9 1634.0L988.2 1636.1L985.8 1637.2L983.2 1637.2L980.8 1636.1L979.1 1634.0L978.5 1631.4L979.1 1628.8L980.8 1626.7L983.2 1625.6L985.8 1625.6L988.2 1626.7L989.9 1628.8ZM956.5 1708.0L955.9 1710.8L954.1 1713.1L951.4 1714.3L948.6 1714.3L945.9 1713.1L944.1 1710.8L943.5 1708.0L944.1 1705.2L945.9 1702.9L948.6 1701.7L951.4 1701.7L954.1 1702.9L955.9 1705.2ZM951.9 1701.8L961.1 1707.2L958.9 1714.8L948.1 1714.2ZM964.0 1711.0L963.6 1712.7L962.5 1714.1L960.9 1714.9L959.1 1714.9L957.5 1714.1L956.4 1712.7L956.0 1711.0L956.4 1709.3L957.5 1707.9L959.1 1707.1L960.9 1707.1L962.5 1707.9L963.6 1709.3ZM944.5 1782.0L943.7 1785.7L941.3 1788.6L937.9 1790.3L934.1 1790.3L930.7 1788.6L928.3 1785.7L927.5 1782.0L928.3 1778.3L930.7 1775.4L934.1 1773.7L937.9 1773.7L941.3 1775.4L943.7 1778.3ZM942.7 1787.2L932.1 1797.6L921.9 1789.6L929.3 1776.8ZM933.5 1793.6L932.9 1796.4L931.1 1798.7L928.4 1799.9L925.6 1799.9L922.9 1798.7L921.1 1796.4L920.5 1793.6L921.1 1790.8L922.9 1788.5L925.6 1787.3L928.4 1787.3L931.1 1788.5L932.9 1790.8ZM933.0 1796.1L924.8 1817.3L911.8 1811.9L921.0 1791.1ZM925.3 1814.6L924.6 1817.6L922.7 1820.1L919.9 1821.4L916.7 1821.4L913.9 1820.1L912.0 1817.6L911.3 1814.6L912.0 1811.6L913.9 1809.1L916.7 1807.8L919.9 1807.8L922.7 1809.1L924.6 1811.6ZM924.9 1817.0L914.7 1840.9L904.3 1837.1L911.7 1812.2ZM915.0 1839.0L914.5 1841.4L912.9 1843.3L910.7 1844.4L908.3 1844.4L906.1 1843.3L904.5 1841.4L904.0 1839.0L904.5 1836.6L906.1 1834.7L908.3 1833.6L910.7 1833.6L912.9 1834.7L914.5 1836.6ZM914.4 1841.5L903.9 1862.5L894.1 1857.5L904.6 1836.5ZM904.5 1860.0L904.0 1862.4L902.4 1864.3L900.2 1865.4L897.8 1865.4L895.6 1864.3L894.0 1862.4L893.5 1860.0L894.0 1857.6L895.6 1855.7L897.8 1854.6L900.2 1854.6L902.4 1855.7L904.0 1857.6ZM903.7 1862.9L895.0 1876.9L885.6 1871.1L894.3 1857.1ZM895.8 1874.0L895.3 1876.4L893.7 1878.3L891.5 1879.4L889.1 1879.4L886.9 1878.3L885.3 1876.4L884.8 1874.0L885.3 1871.6L886.9 1869.7L889.1 1868.6L891.5 1868.6L893.7 1869.7L895.3 1871.6ZM895.7 1873.1L894.5 1880.5L888.5 1881.5L884.9 1874.9ZM894.5 1881.0L894.2 1882.3L893.4 1883.3L892.2 1883.9L890.8 1883.9L889.6 1883.3L888.8 1882.3L888.5 1881.0L888.8 1879.7L889.6 1878.7L890.8 1878.1L892.2 1878.1L893.4 1878.7L894.2 1879.7ZM955.5 1780.0L954.6 1784.1L951.9 1787.4L948.1 1789.3L943.9 1789.3L940.1 1787.4L937.4 1784.1L936.5 1780.0L937.4 1775.9L940.1 1772.6L943.9 1770.7L948.1 1770.7L951.9 1772.6L954.6 1775.9ZM953.9 1774.8L961.9 1789.0L948.1 1798.2L938.1 1785.2ZM963.2 1793.6L962.4 1797.2L960.1 1800.1L956.8 1801.6L953.2 1801.6L949.9 1800.1L947.6 1797.2L946.8 1793.6L947.6 1790.0L949.9 1787.1L953.2 1785.6L956.8 1785.6L960.1 1787.1L962.4 1790.0ZM962.6 1790.3L973.2 1814.7L958.0 1821.3L947.4 1796.9ZM973.9 1818.0L973.0 1821.6L970.7 1824.5L967.4 1826.0L963.8 1826.0L960.5 1824.5L958.2 1821.6L957.4 1818.0L958.2 1814.4L960.5 1811.5L963.8 1810.0L967.4 1810.0L970.7 1811.5L973.0 1814.4ZM973.2 1814.8L983.6 1839.4L968.4 1845.8L958.0 1821.2ZM984.2 1842.6L983.4 1846.2L981.1 1849.1L977.8 1850.6L974.2 1850.6L970.9 1849.1L968.6 1846.2L967.8 1842.6L968.6 1839.0L970.9 1836.1L974.2 1834.6L977.8 1834.6L981.1 1836.1L983.4 1839.0ZM984.0 1840.5L991.7 1866.6L974.3 1871.2L968.0 1844.7ZM992.0 1868.9L991.1 1872.8L988.6 1875.9L985.0 1877.7L981.0 1877.7L977.4 1875.9L974.9 1872.8L974.0 1868.9L974.9 1865.0L977.4 1861.9L981.0 1860.1L985.0 1860.1L988.6 1861.9L991.1 1865.0ZM992.0 1869.5L988.9 1895.5L973.9 1894.5L974.0 1868.3ZM988.9 1895.0L988.2 1898.3L986.1 1900.9L983.1 1902.3L979.7 1902.3L976.7 1900.9L974.6 1898.3L973.9 1895.0L974.6 1891.7L976.7 1889.1L979.7 1887.7L983.1 1887.7L986.1 1889.1L988.2 1891.7ZM988.9 1895.0L986.9 1902.0L975.9 1902.0L973.9 1895.0ZM986.9 1902.0L986.4 1904.4L984.8 1906.3L982.6 1907.4L980.2 1907.4L978.0 1906.3L976.4 1904.4L975.9 1902.0L976.4 1899.6L978.0 1897.7L980.2 1896.6L982.6 1896.6L984.8 1897.7L986.4 1899.6ZM986.9 1902.5L991.5 1919.0L968.5 1917.0L975.9 1901.5ZM991.5 1918.0L990.4 1923.0L987.2 1927.0L982.6 1929.2L977.4 1929.2L972.8 1927.0L969.6 1923.0L968.5 1918.0L969.6 1913.0L972.8 1909.0L977.4 1906.8L982.6 1906.8L987.2 1909.0L990.4 1913.0ZM990.0 1912.3L997.8 1930.9L982.2 1939.9L970.0 1923.7ZM999.0 1935.4L998.1 1939.3L995.6 1942.4L992.0 1944.2L988.0 1944.2L984.4 1942.4L981.9 1939.3L981.0 1935.4L981.9 1931.5L984.4 1928.4L988.0 1926.6L992.0 1926.6L995.6 1928.4L998.1 1931.5ZM997.8 1930.9L1005.8 1947.0L992.0 1955.0L982.2 1939.9ZM1006.9 1951.0L1006.1 1954.5L1003.9 1957.3L1000.7 1958.8L997.1 1958.8L993.9 1957.3L991.7 1954.5L990.9 1951.0L991.7 1947.5L993.9 1944.7L997.1 1943.2L1000.7 1943.2L1003.9 1944.7L1006.1 1947.5ZM1004.0 1944.8L1007.2 1953.3L1002.8 1958.7L993.8 1957.2ZM1008.5 1956.0L1008.2 1957.5L1007.2 1958.7L1005.8 1959.4L1004.2 1959.4L1002.8 1958.7L1001.8 1957.5L1001.5 1956.0L1001.8 1954.5L1002.8 1953.3L1004.2 1952.6L1005.8 1952.6L1007.2 1953.3L1008.2 1954.5ZM1001.5 1955.0L1001.0 1957.4L999.4 1959.3L997.2 1960.4L994.8 1960.4L992.6 1959.3L991.0 1957.4L990.5 1955.0L991.0 1952.6L992.6 1950.7L994.8 1949.6L997.2 1949.6L999.4 1950.7L1001.0 1952.6ZM1001.2 1956.7L997.2 1966.5L988.2 1963.5L990.8 1953.3ZM997.5 1965.0L997.0 1967.1L995.7 1968.7L993.8 1969.6L991.6 1969.6L989.7 1968.7L988.4 1967.1L988.0 1965.0L988.4 1962.9L989.7 1961.3L991.6 1960.4L993.8 1960.4L995.7 1961.3L997.0 1962.9ZM997.5 1965.0L998.2 1980.0L987.2 1980.0L988.0 1965.0ZM998.2 1980.0L997.7 1982.4L996.1 1984.3L993.9 1985.4L991.5 1985.4L989.3 1984.3L987.7 1982.4L987.2 1980.0L987.7 1977.6L989.3 1975.7L991.5 1974.6L993.9 1974.6L996.1 1975.7L997.7 1977.6ZM895.0 1905.0L894.6 1906.6L893.5 1907.9L892.0 1908.7L890.4 1908.7L888.9 1907.9L887.8 1906.6L887.5 1905.0L887.8 1903.4L888.9 1902.1L890.4 1901.3L892.0 1901.3L893.5 1902.1L894.6 1903.4ZM895.0 1905.0L895.0 1915.0L887.5 1915.0L887.5 1905.0ZM895.0 1915.0L894.6 1916.6L893.5 1917.9L892.0 1918.7L890.4 1918.7L888.9 1917.9L887.8 1916.6L887.5 1915.0L887.8 1913.4L888.9 1912.1L890.4 1911.3L892.0 1911.3L893.5 1912.1L894.6 1913.4ZM893.5 1923.0L893.2 1924.0L892.6 1924.8L891.7 1925.2L890.7 1925.2L889.8 1924.8L889.2 1924.0L889.0 1923.0L889.2 1922.0L889.8 1921.2L890.7 1920.8L891.7 1920.8L892.6 1921.2L893.2 1922.0ZM893.4 1922.9L893.7 1930.9L889.3 1931.1L889.0 1923.1ZM893.8 1931.0L893.5 1932.0L892.9 1932.8L892.0 1933.2L891.0 1933.2L890.1 1932.8L889.5 1932.0L889.2 1931.0L889.5 1930.0L890.1 1929.2L891.0 1928.8L892.0 1928.8L892.9 1929.2L893.5 1930.0Z"/></defs>
<g filter="url(#blur3)"><circle cx="807.5" cy="1633.0" r="11.0" fill="#99ffff" opacity="0.85"/><circle cx="806.0" cy="1632.0" r="5.0" fill="#ffee44" opacity="0.90"/><circle cx="860.0" cy="1657.7" r="10.0" fill="#99ffff" opacity="0.80"/><circle cx="860.0" cy="1658.0" r="4.5" fill="#ffee44" opacity="0.90"/><circle cx="902.0" cy="1554.3" r="8.0" fill="#99ffff" opacity="0.75"/><circle cx="956.4" cy="1556.0" r="4.5" fill="#99ffff" opacity="0.70"/><circle cx="987.0" cy="1601.6" r="4.5" fill="#99ffff" opacity="0.70"/><circle cx="837.3" cy="1564.8" r="4.5" fill="#88aaff" opacity="0.50"/><circle cx="888.0" cy="1665.0" r="9.0" fill="#6688ff" opacity="0.50"/><circle cx="893.0" cy="1690.0" r="8.0" fill="#6688ff" opacity="0.50"/><circle cx="903.9" cy="1696.0" r="3.5" fill="#99ffff" opacity="0.60"/><circle cx="878.0" cy="1854.9" r="5.5" fill="#99ffff" opacity="0.60"/><circle cx="941.0" cy="1840.8" r="6.0" fill="#88aaff" opacity="0.50"/><circle cx="902.5" cy="1918.8" r="6.0" fill="#99ffff" opacity="0.60"/><circle cx="902.5" cy="1918.8" r="3.0" fill="#ffee44" opacity="0.90"/><circle cx="892.0" cy="1946.0" r="6.5" fill="#99ffff" opacity="0.70"/><circle cx="958.6" cy="1730.5" r="8.0" fill="#99ffff" opacity="0.80"/><circle cx="1002.0" cy="1818.0" r="4.0" fill="#88aaff" opacity="0.40"/><circle cx="1028.0" cy="1863.0" r="4.0" fill="#88aaff" opacity="0.40"/><circle cx="1016.0" cy="1902.0" r="4.0" fill="#88aaff" opacity="0.40"/><circle cx="880.0" cy="1700.0" r="5.0" fill="#88aaff" opacity="0.40"/><circle cx="918.0" cy="1690.0" r="5.0" fill="#88aaff" opacity="0.40"/></g>
<use href="#tree1" fill="#5f7cff" stroke="#5f7cff" stroke-width="24" stroke-linejoin="round" filter="url(#blur6)" opacity="0.8"/>
<use href="#tree1" fill="#a0f8ff" stroke="#a0f8ff" stroke-width="15" stroke-linejoin="round" filter="url(#blur3)"/>
<use href="#tree1" fill="#fff566" stroke="#fff566" stroke-width="7.5" stroke-linejoin="round" filter="url(#blur1)"/>
<use href="#tree1" fill="#f07a28" stroke="#f07a28" stroke-width="2.6" stroke-linejoin="round" filter="url(#soft)"/>
<use href="#tree1" fill="#be2222" stroke="#be2222" stroke-width="0.6" stroke-linejoin="round"/>
<path d="M519.0 1352.5h98.0v27.0h-98.0zM667.0 1352.5h98.0v27.0h-98.0zM815.0 1352.5h97.5v27.0h-97.5zM989.0 1352.5h98.5v27.0h-98.5zM1175.0 1352.5h99.5v27.0h-99.5zM563.6 1483.0h98.0v28.0h-98.0zM751.0 1483.0h97.7v28.0h-97.7zM900.0 1483.0h96.5v28.0h-96.5zM1047.0 1483.0h97.0v28.0h-97.0zM1207.6 1483.0h98.0v28.0h-98.0zM519.0 1613.9h98.0v26.0h-98.0zM667.0 1613.9h98.0v26.0h-98.0zM815.0 1613.9h97.5v26.0h-97.5zM989.0 1613.9h98.5v26.0h-98.5zM1175.0 1613.9h99.5v26.0h-99.5zM563.6 1743.2h98.0v27.0h-98.0zM751.0 1743.2h97.7v27.0h-97.7zM900.0 1743.2h96.5v27.0h-96.5zM1047.0 1743.2h97.0v27.0h-97.0zM1207.6 1743.2h98.0v27.0h-98.0zM519.0 1873.6h98.0v27.0h-98.0zM667.0 1873.6h98.0v27.0h-98.0zM815.0 1873.6h97.5v27.0h-97.5zM989.0 1873.6h98.5v27.0h-98.5zM1175.0 1873.6h99.5v27.0h-99.5z" fill="none" stroke="#dcdcf5" stroke-opacity="0.72" stroke-width="2.6"/>
<path d="M532.3 1279.8C562.9 1280.4 662.6 1282.0 715.6 1283.5C768.6 1285.1 816.2 1286.2 850.3 1288.9C884.4 1291.6 902.4 1297.3 920.3 1299.7C938.3 1302.1 947.3 1303.9 958.1 1303.5C968.9 1303.0 971.5 1300.1 985.0 1297.0C998.5 1293.9 1007.5 1288.3 1038.9 1285.1C1070.3 1282.0 1122.4 1279.9 1173.6 1278.1C1224.8 1276.3 1317.3 1275.0 1346.1 1274.4" fill="none" stroke="#7a2348" stroke-width="2.2" stroke-opacity="0.95"/>
<path d="M532.3 1376.8C544.9 1376.5 581.7 1373.6 607.8 1375.1C633.8 1376.7 657.2 1382.6 688.6 1385.9C720.1 1389.2 760.5 1394.2 796.4 1395.1C832.3 1396.0 881.7 1392.4 904.2 1391.3C926.6 1390.2 917.7 1387.1 931.1 1388.6C944.6 1390.1 967.1 1400.5 985.0 1400.5C1003.0 1400.5 1020.9 1393.3 1038.9 1388.6C1056.9 1383.9 1070.3 1377.8 1092.8 1372.5C1115.3 1367.1 1146.7 1359.6 1173.6 1356.3C1200.6 1353.0 1225.7 1353.0 1254.5 1352.5C1283.2 1352.1 1330.8 1353.4 1346.1 1353.6" fill="none" stroke="#c8203c" stroke-width="2.2" stroke-opacity="0.90"/>
<path d="M532.3 1460.3C544.9 1460.7 581.7 1460.6 607.8 1463.0C633.8 1465.4 663.5 1467.9 688.6 1474.8C713.8 1481.8 736.2 1496.7 758.7 1504.5C781.1 1512.3 805.4 1520.4 823.3 1521.7C841.3 1523.1 850.3 1516.8 866.5 1512.6C882.6 1508.3 906.9 1499.5 920.3 1496.4C933.8 1493.3 936.5 1496.8 947.3 1493.7C958.1 1490.6 960.8 1484.3 985.0 1477.5C1009.3 1470.8 1056.9 1460.0 1092.8 1453.3C1128.7 1446.6 1158.4 1440.7 1200.6 1437.1C1242.8 1433.5 1321.8 1432.6 1346.1 1431.7" fill="none" stroke="#cc5c4c" stroke-width="2.2" stroke-opacity="0.90"/>
<path d="M532.3 1542.2C544.9 1544.0 581.7 1547.1 607.8 1553.0C633.8 1558.8 666.2 1567.8 688.6 1577.2C711.1 1586.7 729.0 1597.9 742.5 1609.6C756.0 1621.2 761.4 1632.0 769.5 1647.3C777.5 1662.6 783.8 1686.8 791.0 1701.2C798.2 1715.6 803.6 1730.8 812.6 1733.5C821.5 1736.2 834.1 1727.2 844.9 1717.4C855.7 1707.5 866.5 1694.0 877.2 1674.2C888.0 1654.5 900.6 1615.4 909.6 1598.8C918.6 1582.2 923.0 1579.9 931.1 1574.5C939.2 1569.2 940.1 1571.4 958.1 1566.5C976.0 1561.5 1007.5 1552.1 1038.9 1544.9C1070.3 1537.7 1110.8 1527.8 1146.7 1523.3C1182.6 1518.9 1221.2 1520.0 1254.5 1518.0C1287.7 1515.9 1330.8 1512.1 1346.1 1511.0" fill="none" stroke="#c48c58" stroke-width="2.2" stroke-opacity="0.90"/>
<path d="M532.3 1620.3C540.4 1622.1 566.9 1627.8 580.8 1631.1C594.8 1634.5 597.9 1634.0 615.9 1640.3C633.8 1646.6 667.5 1657.8 688.6 1668.9C709.7 1679.9 726.3 1693.1 742.5 1706.6C758.7 1720.0 773.0 1740.1 785.6 1749.7C798.2 1759.3 807.2 1764.2 818.0 1764.2C828.7 1764.2 838.6 1760.2 850.3 1749.7C862.0 1739.2 877.2 1716.5 888.0 1701.2C898.8 1685.9 906.9 1667.1 915.0 1658.1C923.0 1649.1 924.8 1647.3 936.5 1647.3C948.2 1647.3 971.5 1658.1 985.0 1658.1C998.5 1658.1 1003.9 1653.6 1017.4 1647.3C1030.8 1641.0 1044.3 1628.4 1065.9 1620.3C1087.4 1612.3 1115.3 1604.0 1146.7 1598.8C1178.1 1593.6 1221.2 1591.2 1254.5 1589.1C1287.7 1587.0 1330.8 1586.8 1346.1 1586.4" fill="none" stroke="#a0a46c" stroke-width="2.2" stroke-opacity="0.90"/>
<path d="M532.3 1696.9C549.4 1698.0 604.2 1699.1 634.7 1703.9C665.3 1708.6 691.3 1715.1 715.6 1725.4C739.8 1735.8 760.5 1753.7 780.2 1765.9C800.0 1778.0 818.0 1794.6 834.1 1798.2C850.3 1801.8 864.7 1795.5 877.2 1787.4C889.8 1779.3 900.6 1760.5 909.6 1749.7C918.6 1738.9 920.3 1727.7 931.1 1722.7C941.9 1717.8 956.3 1724.1 974.2 1720.0C992.2 1716.0 1010.2 1706.1 1038.9 1698.5C1067.7 1690.9 1110.8 1680.1 1146.7 1674.2C1182.6 1668.4 1221.2 1665.9 1254.5 1663.5C1287.7 1661.0 1330.8 1660.3 1346.1 1659.7" fill="none" stroke="#58a8a4" stroke-width="2.2" stroke-opacity="0.90"/>
<path d="M532.3 1763.2C549.4 1765.9 604.2 1774.4 634.7 1779.3C665.3 1784.3 688.6 1787.9 715.6 1792.8C742.5 1797.7 773.9 1800.9 796.4 1809.0C818.9 1817.1 835.0 1827.8 850.3 1841.3C865.6 1854.8 877.2 1880.8 888.0 1889.8C898.8 1898.8 905.1 1902.4 915.0 1895.2C924.8 1888.0 937.4 1863.8 947.3 1846.7C957.2 1829.6 959.0 1805.4 974.2 1792.8C989.5 1780.2 1010.2 1779.3 1038.9 1771.2C1067.7 1763.2 1110.8 1750.1 1146.7 1744.3C1182.6 1738.5 1221.2 1738.5 1254.5 1736.2C1287.7 1734.0 1330.8 1731.7 1346.1 1730.8" fill="none" stroke="#3c8cd8" stroke-width="2.2" stroke-opacity="0.90"/>
<path d="M532.3 1825.1C553.9 1826.5 622.2 1830.5 661.7 1833.2C701.2 1835.9 740.7 1838.2 769.5 1841.3C798.2 1844.4 816.2 1843.1 834.1 1852.1C852.1 1861.1 866.5 1883.5 877.2 1895.2C888.0 1906.9 889.8 1922.1 898.8 1922.1C907.8 1922.1 919.5 1908.7 931.1 1895.2C942.8 1881.7 955.4 1853.0 968.9 1841.3C982.3 1829.6 982.3 1830.5 1012.0 1825.1C1041.6 1819.7 1091.0 1813.9 1146.7 1809.0C1202.4 1804.0 1312.9 1797.7 1346.1 1795.5" fill="none" stroke="#2c68e4" stroke-width="2.2" stroke-opacity="0.90"/>
<path d="M532.3 1884.4C544.9 1886.2 577.2 1891.6 607.8 1895.2C638.3 1898.8 679.6 1903.3 715.6 1906.0C751.5 1908.7 798.2 1906.9 823.3 1911.4C848.5 1915.9 854.8 1926.6 866.5 1932.9C878.1 1939.2 882.6 1950.0 893.4 1949.1C904.2 1948.2 918.6 1934.7 931.1 1927.5C943.7 1920.3 950.9 1910.5 968.9 1906.0C986.8 1901.5 1009.3 1905.1 1038.9 1900.6C1068.5 1896.1 1110.8 1884.1 1146.7 1879.0C1182.6 1873.9 1221.2 1871.0 1254.5 1869.9C1287.7 1868.7 1330.8 1871.7 1346.1 1872.0" fill="none" stroke="#1c2cd8" stroke-width="2.2" stroke-opacity="0.90"/>
<path d="M532.3 1948.0C562.9 1948.6 658.1 1949.8 715.6 1951.8C773.0 1953.8 841.3 1958.5 877.2 1959.9C913.2 1961.2 913.2 1960.8 931.1 1959.9C949.1 1959.0 949.1 1956.3 985.0 1954.5C1020.9 1952.7 1086.5 1951.3 1146.7 1949.1C1206.9 1946.8 1312.9 1942.3 1346.1 1941.0" fill="none" stroke="#1c1c8c" stroke-width="2.2" stroke-opacity="0.90"/>
</g>
<clipPath id="clip2"><rect x="1392.4" y="1240.3" width="795.3" height="734.5"/></clipPath>
<rect x="1392.4" y="1240.3" width="795.3" height="734.5" fill="#3b3bc7"/>
<g clip-path="url(#clip2)">
<defs><path id="tree2" d="M1827.0 1236.0L1826.6 1238.0L1825.3 1239.5L1823.5 1240.4L1821.5 1240.4L1819.7 1239.5L1818.4 1238.0L1818.0 1236.0L1818.4 1234.0L1819.7 1232.5L1821.5 1231.6L1823.5 1231.6L1825.3 1232.5L1826.6 1234.0ZM1827.0 1236.1L1826.5 1271.1L1817.5 1270.9L1818.0 1235.9ZM1826.5 1271.0L1826.1 1273.0L1824.8 1274.5L1823.0 1275.4L1821.0 1275.4L1819.2 1274.5L1817.9 1273.0L1817.5 1271.0L1817.9 1269.0L1819.2 1267.5L1821.0 1266.6L1823.0 1266.6L1824.8 1267.5L1826.1 1269.0ZM1829.0 1275.0L1828.2 1278.5L1826.0 1281.3L1822.8 1282.8L1819.2 1282.8L1816.0 1281.3L1813.8 1278.5L1813.0 1275.0L1813.8 1271.5L1816.0 1268.7L1819.2 1267.2L1822.8 1267.2L1826.0 1268.7L1828.2 1271.5ZM1829.0 1275.6L1832.6 1281.0L1808.6 1279.0L1813.0 1274.4ZM1832.6 1280.0L1831.4 1285.2L1828.1 1289.4L1823.3 1291.7L1817.9 1291.7L1813.1 1289.4L1809.8 1285.2L1808.6 1280.0L1809.8 1274.8L1813.1 1270.6L1817.9 1268.3L1823.3 1268.3L1828.1 1270.6L1831.4 1274.8ZM1832.5 1281.8L1832.3 1306.3L1801.7 1301.7L1808.7 1278.2ZM1832.5 1304.0L1831.0 1310.7L1826.7 1316.1L1820.4 1319.1L1813.6 1319.1L1807.3 1316.1L1803.0 1310.7L1801.5 1304.0L1803.0 1297.3L1807.3 1291.9L1813.6 1288.9L1820.4 1288.9L1826.7 1291.9L1831.0 1297.3ZM1832.0 1307.8L1824.6 1345.5L1790.6 1336.9L1802.0 1300.2ZM1825.1 1341.2L1823.4 1348.8L1818.5 1354.9L1811.5 1358.3L1803.7 1358.3L1796.7 1354.9L1791.8 1348.8L1790.1 1341.2L1791.8 1333.6L1796.7 1327.5L1803.7 1324.1L1811.5 1324.1L1818.5 1327.5L1823.4 1333.6ZM1825.0 1339.7L1830.2 1384.1L1792.4 1387.3L1790.2 1342.7ZM1830.3 1385.7L1828.4 1393.9L1823.1 1400.6L1815.5 1404.2L1807.1 1404.2L1799.5 1400.6L1794.2 1393.9L1792.3 1385.7L1794.2 1377.5L1799.5 1370.8L1807.1 1367.2L1815.5 1367.2L1823.1 1370.8L1828.4 1377.5ZM1830.3 1384.7L1834.2 1421.7L1792.2 1423.9L1792.3 1386.7ZM1834.2 1422.8L1832.1 1431.9L1826.3 1439.2L1817.9 1443.3L1808.5 1443.3L1800.1 1439.2L1794.3 1431.9L1792.2 1422.8L1794.3 1413.7L1800.1 1406.4L1808.5 1402.3L1817.9 1402.3L1826.3 1406.4L1832.1 1413.7ZM1833.5 1428.0L1829.3 1448.5L1786.7 1437.5L1792.9 1417.6ZM1830.0 1443.0L1827.8 1452.5L1821.7 1460.2L1812.9 1464.4L1803.1 1464.4L1794.3 1460.2L1788.2 1452.5L1786.0 1443.0L1788.2 1433.5L1794.3 1425.8L1803.1 1421.6L1812.9 1421.6L1821.7 1425.8L1827.8 1433.5ZM1832.5 1313.4L1831.9 1316.2L1830.1 1318.5L1827.4 1319.7L1824.6 1319.7L1821.9 1318.5L1820.1 1316.2L1819.5 1313.4L1820.1 1310.6L1821.9 1308.3L1824.6 1307.1L1827.4 1307.1L1830.1 1308.3L1831.9 1310.6ZM1828.1 1307.3L1850.0 1315.3L1846.0 1326.7L1823.9 1319.5ZM1854.0 1321.0L1853.4 1323.6L1851.7 1325.7L1849.3 1326.8L1846.7 1326.8L1844.3 1325.7L1842.6 1323.6L1842.0 1321.0L1842.6 1318.4L1844.3 1316.3L1846.7 1315.2L1849.3 1315.2L1851.7 1316.3L1853.4 1318.4ZM1851.7 1316.2L1859.2 1322.6L1852.4 1331.4L1844.3 1325.8ZM1861.3 1327.0L1860.8 1329.4L1859.2 1331.3L1857.0 1332.4L1854.6 1332.4L1852.4 1331.3L1850.8 1329.4L1850.3 1327.0L1850.8 1324.6L1852.4 1322.7L1854.6 1321.6L1857.0 1321.6L1859.2 1322.7L1860.8 1324.6ZM1861.1 1328.4L1855.9 1338.7L1850.1 1337.3L1850.5 1325.6ZM1856.0 1338.0L1855.7 1339.3L1854.9 1340.3L1853.7 1340.9L1852.3 1340.9L1851.1 1340.3L1850.3 1339.3L1850.0 1338.0L1850.3 1336.7L1851.1 1335.7L1852.3 1335.1L1853.7 1335.1L1854.9 1335.7L1855.7 1336.7ZM1827.0 1445.0L1824.9 1454.1L1819.1 1461.4L1810.7 1465.5L1801.3 1465.5L1792.9 1461.4L1787.1 1454.1L1785.0 1445.0L1787.1 1435.9L1792.9 1428.6L1801.3 1424.5L1810.7 1424.5L1819.1 1428.6L1824.9 1435.9ZM1820.4 1460.3L1786.3 1487.5L1762.3 1461.9L1791.6 1429.7ZM1791.8 1474.7L1790.1 1482.3L1785.2 1488.4L1778.2 1491.8L1770.4 1491.8L1763.4 1488.4L1758.5 1482.3L1756.8 1474.7L1758.5 1467.1L1763.4 1461.0L1770.4 1457.6L1778.2 1457.6L1785.2 1461.0L1790.1 1467.1ZM1789.9 1482.5L1769.6 1518.7L1741.8 1504.9L1758.7 1466.9ZM1771.2 1511.8L1769.7 1518.5L1765.4 1523.9L1759.1 1526.9L1752.3 1526.9L1746.0 1523.9L1741.7 1518.5L1740.2 1511.8L1741.7 1505.1L1746.0 1499.7L1752.3 1496.7L1759.1 1496.7L1765.4 1499.7L1769.7 1505.1ZM1770.1 1517.5L1754.8 1554.5L1727.0 1543.3L1741.3 1506.1ZM1755.9 1548.9L1754.4 1555.4L1750.3 1560.6L1744.2 1563.5L1737.6 1563.5L1731.5 1560.6L1727.4 1555.4L1725.9 1548.9L1727.4 1542.4L1731.5 1537.2L1737.6 1534.3L1744.2 1534.3L1750.3 1537.2L1754.4 1542.4ZM1755.8 1550.8L1753.6 1580.5L1720.8 1576.5L1726.0 1547.0ZM1753.7 1578.5L1752.1 1585.7L1747.5 1591.4L1740.9 1594.6L1733.5 1594.6L1726.9 1591.4L1722.3 1585.7L1720.7 1578.5L1722.3 1571.3L1726.9 1565.6L1733.5 1562.4L1740.9 1562.4L1747.5 1565.6L1752.1 1571.3ZM1751.9 1585.9L1736.7 1606.2L1715.3 1595.4L1722.5 1571.1ZM1738.0 1600.8L1736.8 1606.0L1733.5 1610.2L1728.7 1612.5L1723.3 1612.5L1718.5 1610.2L1715.2 1606.0L1714.0 1600.8L1715.2 1595.6L1718.5 1591.4L1723.3 1589.1L1728.7 1589.1L1733.5 1591.4L1736.8 1595.6ZM1738.0 1600.8L1731.5 1630.4L1720.5 1630.4L1714.0 1600.8ZM1731.5 1630.4L1731.0 1632.8L1729.4 1634.7L1727.2 1635.8L1724.8 1635.8L1722.6 1634.7L1721.0 1632.8L1720.5 1630.4L1721.0 1628.0L1722.6 1626.1L1724.8 1625.0L1727.2 1625.0L1729.4 1626.1L1731.0 1628.0ZM1731.3 1631.9L1731.1 1660.0L1706.1 1652.8L1720.7 1628.9ZM1731.6 1656.4L1730.3 1662.0L1726.7 1666.6L1721.5 1669.1L1715.7 1669.1L1710.5 1666.6L1706.9 1662.0L1705.6 1656.4L1706.9 1650.8L1710.5 1646.2L1715.7 1643.7L1721.5 1643.7L1726.7 1646.2L1730.3 1650.8ZM1684.5 1606.3L1684.2 1607.8L1683.2 1609.0L1681.8 1609.7L1680.2 1609.7L1678.8 1609.0L1677.8 1607.8L1677.5 1606.3L1677.8 1604.8L1678.8 1603.6L1680.2 1602.9L1681.8 1602.9L1683.2 1603.6L1684.2 1604.8ZM1681.0 1602.8L1763.1 1602.8L1763.1 1609.8L1681.0 1609.8ZM1766.6 1606.3L1766.3 1607.8L1765.3 1609.0L1763.9 1609.7L1762.3 1609.7L1760.9 1609.0L1759.9 1607.8L1759.6 1606.3L1759.9 1604.8L1760.9 1603.6L1762.3 1602.9L1763.9 1602.9L1765.3 1603.6L1766.3 1604.8ZM1722.0 1660.0L1721.2 1663.5L1719.0 1666.3L1715.8 1667.8L1712.2 1667.8L1709.0 1666.3L1706.8 1663.5L1706.0 1660.0L1706.8 1656.5L1709.0 1653.7L1712.2 1652.2L1715.8 1652.2L1719.0 1653.7L1721.2 1656.5ZM1719.3 1666.0L1698.0 1684.6L1687.4 1672.6L1708.7 1654.0ZM1700.7 1678.6L1699.9 1682.1L1697.7 1684.9L1694.5 1686.4L1690.9 1686.4L1687.7 1684.9L1685.5 1682.1L1684.7 1678.6L1685.5 1675.1L1687.7 1672.3L1690.9 1670.8L1694.5 1670.8L1697.7 1672.3L1699.9 1675.1ZM1697.1 1685.3L1673.5 1698.1L1667.3 1688.9L1688.3 1671.9ZM1675.9 1693.5L1675.4 1695.9L1673.8 1697.8L1671.6 1698.9L1669.2 1698.9L1667.0 1697.8L1665.4 1695.9L1664.9 1693.5L1665.4 1691.1L1667.0 1689.2L1669.2 1688.1L1671.6 1688.1L1673.8 1689.2L1675.4 1691.1ZM1730.6 1656.4L1729.4 1661.6L1726.1 1665.8L1721.3 1668.1L1715.9 1668.1L1711.1 1665.8L1707.8 1661.6L1706.6 1656.4L1707.8 1651.2L1711.1 1647.0L1715.9 1644.7L1721.3 1644.7L1726.1 1647.0L1729.4 1651.2ZM1729.7 1660.8L1714.9 1697.9L1692.7 1689.1L1707.5 1652.0ZM1715.8 1693.5L1714.6 1698.7L1711.3 1702.9L1706.5 1705.2L1701.1 1705.2L1696.3 1702.9L1693.0 1698.7L1691.8 1693.5L1693.0 1688.3L1696.3 1684.1L1701.1 1681.8L1706.5 1681.8L1711.3 1684.1L1714.6 1688.3ZM1715.2 1697.3L1703.1 1730.3L1682.3 1723.3L1692.4 1689.7ZM1703.7 1726.8L1702.6 1731.6L1699.6 1735.4L1695.1 1737.5L1690.3 1737.5L1685.8 1735.4L1682.8 1731.6L1681.7 1726.8L1682.8 1722.0L1685.8 1718.2L1690.3 1716.1L1695.1 1716.1L1699.6 1718.2L1702.6 1722.0ZM1702.0 1732.7L1683.5 1747.9L1677.5 1744.1L1683.4 1720.9ZM1684.0 1746.0L1683.7 1747.5L1682.7 1748.7L1681.3 1749.4L1679.7 1749.4L1678.3 1748.7L1677.3 1747.5L1677.0 1746.0L1677.3 1744.5L1678.3 1743.3L1679.7 1742.6L1681.3 1742.6L1682.7 1743.3L1683.7 1744.5ZM1743.2 1656.4L1742.6 1659.0L1740.9 1661.1L1738.5 1662.2L1735.9 1662.2L1733.5 1661.1L1731.8 1659.0L1731.2 1656.4L1731.8 1653.8L1733.5 1651.7L1735.9 1650.6L1738.5 1650.6L1740.9 1651.7L1742.6 1653.8ZM1741.9 1652.7L1758.3 1670.0L1745.7 1680.0L1732.5 1660.1ZM1760.0 1675.0L1759.2 1678.5L1757.0 1681.3L1753.8 1682.8L1750.2 1682.8L1747.0 1681.3L1744.8 1678.5L1744.0 1675.0L1744.8 1671.5L1747.0 1668.7L1750.2 1667.2L1753.8 1667.2L1757.0 1668.7L1759.2 1671.5ZM1759.2 1671.4L1769.4 1694.1L1756.8 1700.3L1744.8 1678.6ZM1770.1 1697.2L1769.4 1700.2L1767.5 1702.7L1764.7 1704.0L1761.5 1704.0L1758.7 1702.7L1756.8 1700.2L1756.1 1697.2L1756.8 1694.2L1758.7 1691.7L1761.5 1690.4L1764.7 1690.4L1767.5 1691.7L1769.4 1694.2ZM1769.7 1694.9L1769.7 1707.3L1764.1 1709.3L1756.5 1699.5ZM1769.9 1708.3L1769.6 1709.6L1768.8 1710.6L1767.6 1711.2L1766.2 1711.2L1765.0 1710.6L1764.2 1709.6L1763.9 1708.3L1764.2 1707.0L1765.0 1706.0L1766.2 1705.4L1767.6 1705.4L1768.8 1706.0L1769.6 1707.0ZM1829.0 1440.0L1827.6 1446.1L1823.7 1450.9L1818.1 1453.6L1811.9 1453.6L1806.3 1450.9L1802.4 1446.1L1801.0 1440.0L1802.4 1433.9L1806.3 1429.1L1811.9 1426.4L1818.1 1426.4L1823.7 1429.1L1827.6 1433.9ZM1827.0 1432.8L1833.9 1449.1L1814.1 1460.9L1803.0 1447.2ZM1835.5 1455.0L1834.4 1460.0L1831.2 1464.0L1826.6 1466.2L1821.4 1466.2L1816.8 1464.0L1813.6 1460.0L1812.5 1455.0L1813.6 1450.0L1816.8 1446.0L1821.4 1443.8L1826.6 1443.8L1831.2 1446.0L1834.4 1450.0ZM1831.9 1446.7L1851.6 1467.5L1837.8 1481.9L1816.1 1463.3ZM1854.7 1474.7L1853.7 1479.0L1850.9 1482.5L1846.9 1484.4L1842.5 1484.4L1838.5 1482.5L1835.7 1479.0L1834.7 1474.7L1835.7 1470.4L1838.5 1466.9L1842.5 1465.0L1846.9 1465.0L1850.9 1466.9L1853.7 1470.4ZM1853.7 1470.2L1863.0 1493.4L1848.6 1500.6L1835.7 1479.2ZM1863.8 1497.0L1863.0 1500.5L1860.8 1503.3L1857.6 1504.8L1854.0 1504.8L1850.8 1503.3L1848.6 1500.5L1847.8 1497.0L1848.6 1493.5L1850.8 1490.7L1854.0 1489.2L1857.6 1489.2L1860.8 1490.7L1863.0 1493.5ZM1863.4 1499.5L1855.5 1521.6L1841.3 1516.8L1848.2 1494.5ZM1855.9 1519.2L1855.2 1522.5L1853.1 1525.1L1850.1 1526.5L1846.7 1526.5L1843.7 1525.1L1841.6 1522.5L1840.9 1519.2L1841.6 1515.9L1843.7 1513.3L1846.7 1511.9L1850.1 1511.9L1853.1 1513.3L1855.2 1515.9ZM1855.4 1516.6L1867.0 1546.1L1852.0 1551.7L1841.4 1521.8ZM1867.5 1548.9L1866.7 1552.4L1864.5 1555.2L1861.3 1556.7L1857.7 1556.7L1854.5 1555.2L1852.3 1552.4L1851.5 1548.9L1852.3 1545.4L1854.5 1542.6L1857.7 1541.1L1861.3 1541.1L1864.5 1542.6L1866.7 1545.4ZM1866.6 1545.3L1881.5 1574.9L1867.3 1582.1L1852.4 1552.5ZM1882.4 1578.5L1881.6 1582.0L1879.4 1584.8L1876.2 1586.3L1872.6 1586.3L1869.4 1584.8L1867.2 1582.0L1866.4 1578.5L1867.2 1575.0L1869.4 1572.2L1872.6 1570.7L1876.2 1570.7L1879.4 1572.2L1881.6 1575.0ZM1880.6 1573.4L1898.7 1596.0L1887.1 1605.6L1868.2 1583.6ZM1900.4 1600.8L1899.7 1604.1L1897.6 1606.7L1894.6 1608.1L1891.2 1608.1L1888.2 1606.7L1886.1 1604.1L1885.4 1600.8L1886.1 1597.5L1888.2 1594.9L1891.2 1593.5L1894.6 1593.5L1897.6 1594.9L1899.7 1597.5ZM1896.7 1594.3L1904.2 1602.9L1900.2 1609.7L1889.1 1607.3ZM1906.2 1606.3L1905.8 1608.0L1904.7 1609.4L1903.1 1610.2L1901.3 1610.2L1899.7 1609.4L1898.6 1608.0L1898.2 1606.3L1898.6 1604.6L1899.7 1603.2L1901.3 1602.4L1903.1 1602.4L1904.7 1603.2L1905.8 1604.6ZM1893.0 1603.0L1892.5 1605.2L1891.1 1606.9L1889.1 1607.9L1886.9 1607.9L1884.9 1606.9L1883.5 1605.2L1883.0 1603.0L1883.5 1600.8L1884.9 1599.1L1886.9 1598.1L1889.1 1598.1L1891.1 1599.1L1892.5 1600.8ZM1892.8 1604.5L1884.4 1623.8L1879.2 1622.2L1883.2 1601.5ZM1884.5 1623.0L1884.3 1624.2L1883.5 1625.2L1882.4 1625.7L1881.2 1625.7L1880.1 1625.2L1879.3 1624.2L1879.0 1623.0L1879.3 1621.8L1880.1 1620.8L1881.2 1620.3L1882.4 1620.3L1883.5 1620.8L1884.3 1621.8ZM1854.5 1478.0L1854.1 1480.0L1852.8 1481.5L1851.0 1482.4L1849.0 1482.4L1847.2 1481.5L1845.9 1480.0L1845.5 1478.0L1845.9 1476.0L1847.2 1474.5L1849.0 1473.6L1851.0 1473.6L1852.8 1474.5L1854.1 1476.0ZM1850.0 1473.5L1870.0 1474.5L1870.0 1481.5L1850.0 1482.5ZM1873.5 1478.0L1873.2 1479.5L1872.2 1480.7L1870.8 1481.4L1869.2 1481.4L1867.8 1480.7L1866.8 1479.5L1866.5 1478.0L1866.8 1476.5L1867.8 1475.3L1869.2 1474.6L1870.8 1474.6L1872.2 1475.3L1873.2 1476.5Z"/></defs>
<g filter="url(#blur3)"><circle cx="1662.0" cy="1655.0" r="9.0" fill="#ffee66" opacity="0.80"/><circle cx="1668.0" cy="1640.0" r="8.0" fill="#99ffff" opacity="0.70"/><circle cx="1780.0" cy="1535.0" r="5.0" fill="#ffee66" opacity="0.80"/><circle cx="1803.0" cy="1533.0" r="5.0" fill="#ffee66" opacity="0.80"/><circle cx="1782.0" cy="1594.0" r="6.0" fill="#ffee66" opacity="0.70"/><circle cx="1810.0" cy="1493.0" r="6.0" fill="#99ffff" opacity="0.70"/><circle cx="1700.0" cy="1540.0" r="6.0" fill="#88aaff" opacity="0.50"/><circle cx="1708.0" cy="1575.0" r="6.0" fill="#88aaff" opacity="0.50"/><circle cx="1790.0" cy="1300.0" r="5.0" fill="#99ffff" opacity="0.50"/><circle cx="1850.0" cy="1400.0" r="5.0" fill="#88aaff" opacity="0.50"/><circle cx="1870.0" cy="1440.0" r="5.0" fill="#88aaff" opacity="0.40"/><circle cx="1735.0" cy="1690.0" r="6.0" fill="#99ffff" opacity="0.60"/><circle cx="1905.0" cy="1288.0" r="4.0" fill="#88aaff" opacity="0.40"/></g>
<use href="#tree2" fill="#5f7cff" stroke="#5f7cff" stroke-width="24" stroke-linejoin="round" filter="url(#blur6)" opacity="0.8"/>
<use href="#tree2" fill="#a0f8ff" stroke="#a0f8ff" stroke-width="15" stroke-linejoin="round" filter="url(#blur3)"/>
<use href="#tree2" fill="#fff566" stroke="#fff566" stroke-width="7.5" stroke-linejoin="round" filter="url(#blur1)"/>
<use href="#tree2" fill="#f07a28" stroke="#f07a28" stroke-width="2.6" stroke-linejoin="round" filter="url(#soft)"/>
<use href="#tree2" fill="#be2222" stroke="#be2222" stroke-width="0.6" stroke-linejoin="round"/>
<path d="M1304.5 1346.7h136.4v45.2h-136.4zM1313.0 1355.5h119.4v27.6h-119.4zM1486.2 1346.7h136.4v45.2h-136.4zM1494.7 1355.5h119.4v27.6h-119.4zM1667.3 1346.7h136.4v45.2h-136.4zM1675.8 1355.5h119.4v27.6h-119.4zM1880.3 1346.7h136.4v45.2h-136.4zM1888.8 1355.5h119.4v27.6h-119.4zM2108.4 1346.7h136.4v45.2h-136.4zM2116.9 1355.5h119.4v27.6h-119.4zM1360.0 1476.5h136.4v45.2h-136.4zM1368.5 1485.3h119.4v27.6h-119.4zM1589.1 1476.5h136.4v45.2h-136.4zM1597.6 1485.3h119.4v27.6h-119.4zM1769.8 1476.5h136.4v45.2h-136.4zM1778.3 1485.3h119.4v27.6h-119.4zM1950.4 1476.5h136.4v45.2h-136.4zM1958.9 1485.3h119.4v27.6h-119.4zM2148.3 1476.5h136.4v45.2h-136.4zM2156.8 1485.3h119.4v27.6h-119.4zM1304.5 1607.0h136.4v45.2h-136.4zM1313.0 1615.8h119.4v27.6h-119.4zM1486.2 1607.0h136.4v45.2h-136.4zM1494.7 1615.8h119.4v27.6h-119.4zM1667.3 1607.0h136.4v45.2h-136.4zM1675.8 1615.8h119.4v27.6h-119.4zM1880.3 1607.0h136.4v45.2h-136.4zM1888.8 1615.8h119.4v27.6h-119.4zM2108.4 1607.0h136.4v45.2h-136.4zM2116.9 1615.8h119.4v27.6h-119.4zM1360.0 1736.8h136.4v45.2h-136.4zM1368.5 1745.6h119.4v27.6h-119.4zM1589.1 1736.8h136.4v45.2h-136.4zM1597.6 1745.6h119.4v27.6h-119.4zM1769.8 1736.8h136.4v45.2h-136.4zM1778.3 1745.6h119.4v27.6h-119.4zM1950.4 1736.8h136.4v45.2h-136.4zM1958.9 1745.6h119.4v27.6h-119.4zM2148.3 1736.8h136.4v45.2h-136.4zM2156.8 1745.6h119.4v27.6h-119.4zM1304.5 1867.0h136.4v45.2h-136.4zM1313.0 1875.8h119.4v27.6h-119.4zM1486.2 1867.0h136.4v45.2h-136.4zM1494.7 1875.8h119.4v27.6h-119.4zM1667.3 1867.0h136.4v45.2h-136.4zM1675.8 1875.8h119.4v27.6h-119.4zM1880.3 1867.0h136.4v45.2h-136.4zM1888.8 1875.8h119.4v27.6h-119.4zM2108.4 1867.0h136.4v45.2h-136.4zM2116.9 1875.8h119.4v27.6h-119.4z" fill="none" stroke="#dcdcf5" stroke-opacity="0.60" stroke-width="2.6"/>
<path d="M1392.4 1299.7C1409.4 1302.4 1464.2 1310.1 1494.8 1315.9C1525.3 1321.8 1555.0 1328.1 1575.7 1334.8C1596.3 1341.5 1608.0 1345.6 1618.8 1356.4C1629.6 1367.1 1632.3 1385.1 1640.4 1399.5C1648.5 1413.9 1660.1 1429.1 1667.3 1442.6C1674.5 1456.1 1680.4 1463.3 1683.5 1480.4C1686.6 1497.4 1687.1 1527.1 1686.2 1545.1C1685.3 1563.0 1681.7 1573.8 1678.1 1588.2C1674.5 1602.6 1668.7 1617.9 1664.6 1631.3C1660.6 1644.8 1654.3 1656.5 1653.8 1669.1C1653.4 1681.7 1657.0 1694.2 1661.9 1706.8C1666.9 1719.4 1676.3 1739.2 1683.5 1744.6C1690.7 1750.0 1697.0 1746.4 1705.1 1739.2C1713.2 1732.0 1721.2 1708.6 1732.0 1701.4C1742.8 1694.2 1760.8 1704.1 1769.8 1696.0C1778.8 1687.9 1782.4 1664.6 1785.9 1652.9C1789.5 1641.2 1784.1 1632.7 1791.3 1625.9C1798.5 1619.2 1816.5 1612.5 1829.1 1612.5C1841.7 1612.5 1856.9 1621.9 1866.8 1625.9C1876.7 1630.0 1881.6 1638.5 1888.4 1636.7C1895.1 1634.9 1902.8 1630.4 1907.3 1615.2C1911.8 1599.9 1913.1 1576.5 1915.3 1545.1C1917.6 1513.6 1916.2 1456.1 1920.7 1426.5C1925.2 1396.8 1932.4 1381.5 1942.3 1367.1C1952.2 1352.8 1955.8 1350.1 1980.0 1340.2C2004.3 1330.3 2053.3 1316.1 2087.9 1307.8C2122.5 1299.6 2171.0 1293.5 2187.6 1290.6" fill="none" stroke="#6a2858" stroke-width="2.2" stroke-opacity="0.81"/>
<path d="M1392.4 1439.9C1404.9 1442.2 1448.1 1445.8 1467.8 1453.4C1487.6 1461.0 1499.3 1474.1 1511.0 1485.8C1522.6 1497.4 1527.1 1510.0 1537.9 1523.5C1548.7 1537.0 1564.0 1552.3 1575.7 1566.6C1587.4 1581.0 1599.9 1591.8 1608.0 1609.8C1616.1 1627.7 1618.8 1654.7 1624.2 1674.5C1629.6 1694.2 1632.3 1713.1 1640.4 1728.4C1648.5 1743.7 1661.0 1759.1 1672.7 1766.1C1684.4 1773.1 1699.7 1772.2 1710.5 1770.4C1721.2 1768.6 1727.5 1762.4 1737.4 1755.3C1747.3 1748.3 1758.1 1739.2 1769.8 1728.4C1781.5 1717.6 1794.9 1700.5 1807.5 1690.6C1820.1 1680.8 1830.0 1674.5 1845.3 1669.1C1860.5 1663.7 1884.8 1661.9 1899.2 1658.3C1913.5 1654.7 1921.6 1657.4 1931.5 1647.5C1941.4 1637.6 1947.7 1617.9 1958.5 1599.0C1969.3 1580.1 1981.8 1555.0 1996.2 1534.3C2010.6 1513.6 2025.0 1491.2 2044.7 1475.0C2064.5 1458.8 2091.0 1447.6 2114.8 1437.2C2138.7 1426.9 2175.5 1417.0 2187.6 1413.0" fill="none" stroke="#b42848" stroke-width="2.2" stroke-opacity="0.81"/>
<path d="M1392.4 1550.5C1400.4 1554.1 1423.8 1562.1 1440.9 1572.0C1457.9 1581.9 1478.6 1593.6 1494.8 1609.8C1511.0 1625.9 1522.6 1649.3 1537.9 1669.1C1553.2 1688.8 1571.2 1710.4 1586.5 1728.4C1601.7 1746.4 1613.4 1766.1 1629.6 1776.9C1645.8 1787.7 1667.3 1790.8 1683.5 1793.1C1699.7 1795.3 1713.2 1794.9 1726.6 1790.4C1740.1 1785.9 1749.1 1776.5 1764.4 1766.1C1779.7 1755.8 1795.8 1739.2 1818.3 1728.4C1840.8 1717.6 1876.7 1710.4 1899.2 1701.4C1921.6 1692.4 1935.1 1687.1 1953.1 1674.5C1971.1 1661.9 1986.3 1643.0 2007.0 1625.9C2027.7 1608.9 2054.6 1587.3 2077.1 1572.0C2099.6 1556.8 2123.4 1542.6 2141.8 1534.3C2160.2 1525.9 2180.0 1524.0 2187.6 1521.9" fill="none" stroke="#c4584c" stroke-width="2.2" stroke-opacity="0.81"/>
<path d="M1392.4 1639.4C1400.4 1642.1 1423.8 1648.0 1440.9 1655.6C1457.9 1663.2 1476.8 1673.1 1494.8 1685.3C1512.8 1697.4 1530.7 1713.1 1548.7 1728.4C1566.7 1743.7 1584.7 1764.3 1602.6 1776.9C1620.6 1789.5 1638.6 1798.0 1656.5 1803.9C1674.5 1809.7 1692.5 1813.8 1710.5 1812.0C1728.4 1810.2 1741.9 1802.5 1764.4 1793.1C1786.8 1783.7 1818.3 1766.1 1845.3 1755.3C1872.2 1744.6 1899.2 1740.1 1926.1 1728.4C1953.1 1716.7 1980.0 1701.4 2007.0 1685.3C2034.0 1669.1 2065.4 1645.3 2087.9 1631.3C2110.3 1617.4 2125.2 1608.9 2141.8 1601.7C2158.4 1594.5 2180.0 1590.4 2187.6 1588.2" fill="none" stroke="#c08a54" stroke-width="2.2" stroke-opacity="0.81"/>
<path d="M1392.4 1701.4C1404.9 1705.0 1441.8 1711.3 1467.8 1723.0C1493.9 1734.7 1521.8 1756.7 1548.7 1771.5C1575.7 1786.3 1602.6 1803.0 1629.6 1812.0C1656.5 1820.9 1683.5 1826.8 1710.5 1825.4C1737.4 1824.1 1759.9 1813.8 1791.3 1803.9C1822.8 1794.0 1867.7 1776.9 1899.2 1766.1C1930.6 1755.3 1953.1 1748.2 1980.0 1739.2C2007.0 1730.2 2034.0 1721.6 2060.9 1712.2C2087.9 1702.8 2120.7 1689.3 2141.8 1682.6C2162.9 1675.8 2180.0 1673.6 2187.6 1671.8" fill="none" stroke="#94a468" stroke-width="2.2" stroke-opacity="0.81"/>
<path d="M1392.4 1766.1C1404.9 1769.7 1441.8 1779.6 1467.8 1787.7C1493.9 1795.8 1521.8 1805.7 1548.7 1814.7C1575.7 1823.6 1602.6 1835.8 1629.6 1841.6C1656.5 1847.5 1683.5 1850.6 1710.5 1849.7C1737.4 1848.8 1759.9 1843.9 1791.3 1836.2C1822.8 1828.6 1863.2 1815.6 1899.2 1803.9C1935.1 1792.2 1971.1 1776.9 2007.0 1766.1C2042.9 1755.3 2084.7 1746.4 2114.8 1739.2C2144.9 1732.0 2175.5 1725.7 2187.6 1723.0" fill="none" stroke="#4ca8a8" stroke-width="2.2" stroke-opacity="0.81"/>
<path d="M1392.4 1814.7C1409.4 1817.4 1459.7 1823.2 1494.8 1830.8C1529.8 1838.5 1575.7 1853.3 1602.6 1860.5C1629.6 1867.7 1634.1 1872.6 1656.5 1874.0C1679.0 1875.3 1706.0 1873.1 1737.4 1868.6C1768.9 1864.1 1809.3 1853.7 1845.3 1847.0C1881.2 1840.3 1917.1 1834.0 1953.1 1828.1C1989.0 1822.3 2021.8 1817.4 2060.9 1812.0C2100.0 1806.6 2166.5 1798.5 2187.6 1795.8" fill="none" stroke="#3890dc" stroke-width="2.2" stroke-opacity="0.81"/>
<path d="M1392.4 1855.1C1409.4 1858.2 1464.2 1866.8 1494.8 1874.0C1525.3 1881.2 1548.7 1892.8 1575.7 1898.2C1602.6 1903.6 1625.1 1905.9 1656.5 1906.3C1688.0 1906.8 1723.9 1904.5 1764.4 1900.9C1804.8 1897.3 1854.2 1892.4 1899.2 1884.7C1944.1 1877.1 1998.0 1861.8 2034.0 1855.1C2069.9 1848.4 2089.2 1847.0 2114.8 1844.3C2140.4 1841.6 2175.5 1839.8 2187.6 1838.9" fill="none" stroke="#2c64e4" stroke-width="2.2" stroke-opacity="0.81"/>
<path d="M1392.4 1919.8C1413.9 1921.6 1473.2 1927.4 1521.8 1930.6C1570.3 1933.7 1629.6 1938.2 1683.5 1938.7C1737.4 1939.1 1791.3 1935.5 1845.3 1933.3C1899.2 1931.0 1962.1 1928.3 2007.0 1925.2C2051.9 1922.0 2084.7 1916.6 2114.8 1914.4C2144.9 1912.2 2175.5 1912.2 2187.6 1911.7" fill="none" stroke="#1c2cd8" stroke-width="2.2" stroke-opacity="0.81"/>
<path d="M1392.4 1957.5C1431.9 1958.4 1545.1 1962.5 1629.6 1962.9C1714.1 1963.4 1806.2 1961.8 1899.2 1960.2C1992.2 1958.6 2139.6 1954.4 2187.6 1953.2" fill="none" stroke="#1c1c8c" stroke-width="2.2" stroke-opacity="0.81"/>
</g>
<clipPath id="clip3"><rect x="2222.2" y="1240.3" width="817.0" height="733.3"/></clipPath>
<rect x="2222.2" y="1240.3" width="817.0" height="733.3" fill="#3b3bc7"/>
<g clip-path="url(#clip3)">
<defs><path id="tree3" d="M2639.8 1236.0L2639.5 1237.5L2638.5 1238.7L2637.1 1239.4L2635.5 1239.4L2634.1 1238.7L2633.1 1237.5L2632.8 1236.0L2633.1 1234.5L2634.1 1233.3L2635.5 1232.6L2637.1 1232.6L2638.5 1233.3L2639.5 1234.5ZM2639.8 1236.0L2639.8 1268.0L2632.8 1268.0L2632.8 1236.0ZM2639.8 1268.0L2639.5 1269.5L2638.5 1270.7L2637.1 1271.4L2635.5 1271.4L2634.1 1270.7L2633.1 1269.5L2632.8 1268.0L2633.1 1266.5L2634.1 1265.3L2635.5 1264.6L2637.1 1264.6L2638.5 1265.3L2639.5 1266.5ZM2643.3 1272.0L2642.6 1275.0L2640.7 1277.5L2637.9 1278.8L2634.7 1278.8L2631.9 1277.5L2630.0 1275.0L2629.3 1272.0L2630.0 1269.0L2631.9 1266.5L2634.7 1265.2L2637.9 1265.2L2640.7 1266.5L2642.6 1269.0ZM2643.3 1272.0L2647.3 1278.0L2625.3 1278.0L2629.3 1272.0ZM2647.3 1278.0L2646.2 1282.8L2643.2 1286.6L2638.7 1288.7L2633.9 1288.7L2629.4 1286.6L2626.4 1282.8L2625.3 1278.0L2626.4 1273.2L2629.4 1269.4L2633.9 1267.3L2638.7 1267.3L2643.2 1269.4L2646.2 1273.2ZM2647.2 1279.4L2648.9 1306.0L2617.1 1302.0L2625.4 1276.6ZM2649.0 1304.0L2647.4 1310.9L2643.0 1316.5L2636.6 1319.6L2629.4 1319.6L2623.0 1316.5L2618.6 1310.9L2617.0 1304.0L2618.6 1297.1L2623.0 1291.5L2629.4 1288.4L2636.6 1288.4L2643.0 1291.5L2647.4 1297.1ZM2647.5 1310.7L2632.0 1332.3L2612.0 1323.1L2618.5 1297.3ZM2633.0 1327.7L2631.9 1332.5L2628.9 1336.3L2624.4 1338.4L2619.6 1338.4L2615.1 1336.3L2612.1 1332.5L2611.0 1327.7L2612.1 1322.9L2615.1 1319.1L2619.6 1317.0L2624.4 1317.0L2628.9 1319.1L2631.9 1322.9ZM2632.3 1331.6L2619.3 1349.8L2609.5 1346.2L2611.7 1323.8ZM2619.7 1348.0L2619.1 1350.3L2617.7 1352.1L2615.6 1353.1L2613.2 1353.1L2611.1 1352.1L2609.7 1350.3L2609.2 1348.0L2609.7 1345.7L2611.1 1343.9L2613.2 1342.9L2615.6 1342.9L2617.7 1343.9L2619.1 1345.7ZM2619.6 1347.6L2620.7 1371.3L2611.3 1371.9L2609.2 1348.4ZM2620.8 1371.6L2620.3 1373.7L2619.0 1375.3L2617.1 1376.2L2614.9 1376.2L2613.0 1375.3L2611.7 1373.7L2611.2 1371.6L2611.7 1369.5L2613.0 1367.9L2614.9 1367.0L2617.1 1367.0L2619.0 1367.9L2620.3 1369.5ZM2620.6 1370.2L2624.6 1387.3L2617.4 1389.5L2611.4 1373.0ZM2624.8 1388.4L2624.4 1390.0L2623.3 1391.3L2621.8 1392.1L2620.2 1392.1L2618.7 1391.3L2617.6 1390.0L2617.2 1388.4L2617.6 1386.8L2618.7 1385.5L2620.2 1384.7L2621.8 1384.7L2623.3 1385.5L2624.4 1386.8ZM2624.7 1388.1L2633.8 1411.2L2611.8 1412.8L2617.3 1388.7ZM2633.8 1412.0L2632.7 1416.8L2629.7 1420.6L2625.2 1422.7L2620.4 1422.7L2615.9 1420.6L2612.9 1416.8L2611.8 1412.0L2612.9 1407.2L2615.9 1403.4L2620.4 1401.3L2625.2 1401.3L2629.7 1403.4L2632.7 1407.2ZM2633.8 1412.0L2636.3 1439.0L2609.3 1439.0L2611.8 1412.0ZM2636.3 1439.0L2635.0 1444.9L2631.2 1449.6L2625.8 1452.2L2619.8 1452.2L2614.4 1449.6L2610.6 1444.9L2609.3 1439.0L2610.6 1433.1L2614.4 1428.4L2619.8 1425.8L2625.8 1425.8L2631.2 1428.4L2635.0 1433.1ZM2636.2 1440.3L2637.9 1458.7L2604.1 1455.3L2609.4 1437.7ZM2638.0 1457.0L2636.3 1464.4L2631.6 1470.3L2624.8 1473.6L2617.2 1473.6L2610.4 1470.3L2605.7 1464.4L2604.0 1457.0L2605.7 1449.6L2610.4 1443.7L2617.2 1440.4L2624.8 1440.4L2631.6 1443.7L2636.3 1449.6ZM2648.3 1311.0L2647.6 1314.0L2645.7 1316.5L2642.9 1317.8L2639.7 1317.8L2636.9 1316.5L2635.0 1314.0L2634.3 1311.0L2635.0 1308.0L2636.9 1305.5L2639.7 1304.2L2642.9 1304.2L2645.7 1305.5L2647.6 1308.0ZM2645.7 1305.5L2658.8 1317.3L2651.2 1326.7L2636.9 1316.5ZM2661.0 1322.0L2660.4 1324.6L2658.7 1326.7L2656.3 1327.8L2653.7 1327.8L2651.3 1326.7L2649.6 1324.6L2649.0 1322.0L2649.6 1319.4L2651.3 1317.3L2653.7 1316.2L2656.3 1316.2L2658.7 1317.3L2660.4 1319.4ZM2659.5 1318.0L2664.3 1328.0L2659.7 1332.0L2650.5 1326.0ZM2665.0 1330.0L2664.7 1331.3L2663.9 1332.3L2662.7 1332.9L2661.3 1332.9L2660.1 1332.3L2659.3 1331.3L2659.0 1330.0L2659.3 1328.7L2660.1 1327.7L2661.3 1327.1L2662.7 1327.1L2663.9 1327.7L2664.7 1328.7ZM2619.9 1462.6L2619.4 1465.0L2617.8 1466.9L2615.6 1468.0L2613.2 1468.0L2611.0 1466.9L2609.4 1465.0L2608.9 1462.6L2609.4 1460.2L2611.0 1458.3L2613.2 1457.2L2615.6 1457.2L2617.8 1458.3L2619.4 1460.2ZM2615.7 1467.9L2588.4 1473.2L2586.4 1465.4L2613.1 1457.3ZM2591.4 1469.3L2591.0 1471.0L2589.9 1472.4L2588.3 1473.2L2586.5 1473.2L2584.9 1472.4L2583.8 1471.0L2583.4 1469.3L2583.8 1467.6L2584.9 1466.2L2586.5 1465.4L2588.3 1465.4L2589.9 1466.2L2591.0 1467.6ZM2589.2 1472.9L2578.7 1480.4L2573.3 1469.6L2585.6 1465.7ZM2582.0 1475.0L2581.4 1477.6L2579.7 1479.7L2577.3 1480.8L2574.7 1480.8L2572.3 1479.7L2570.6 1477.6L2570.0 1475.0L2570.6 1472.4L2572.3 1470.3L2574.7 1469.2L2577.3 1469.2L2579.7 1470.3L2581.4 1472.4ZM2606.5 1468.0L2606.3 1469.1L2605.6 1470.0L2604.6 1470.4L2603.4 1470.4L2602.4 1470.0L2601.7 1469.1L2601.5 1468.0L2601.7 1466.9L2602.4 1466.0L2603.4 1465.6L2604.6 1465.6L2605.6 1466.0L2606.3 1466.9ZM2606.5 1468.0L2605.8 1489.0L2602.2 1489.0L2601.5 1468.0ZM2605.8 1489.0L2605.6 1489.8L2605.1 1490.4L2604.4 1490.7L2603.6 1490.7L2602.9 1490.4L2602.4 1489.8L2602.2 1489.0L2602.4 1488.2L2602.9 1487.6L2603.6 1487.3L2604.4 1487.3L2605.1 1487.6L2605.6 1488.2ZM2639.0 1460.0L2637.6 1466.1L2633.7 1470.9L2628.1 1473.6L2621.9 1473.6L2616.3 1470.9L2612.4 1466.1L2611.0 1460.0L2612.4 1453.9L2616.3 1449.1L2621.9 1446.4L2628.1 1446.4L2633.7 1449.1L2637.6 1453.9ZM2633.1 1448.6L2642.7 1462.8L2633.3 1475.8L2616.9 1471.4ZM2646.0 1469.3L2645.2 1472.8L2643.0 1475.6L2639.8 1477.1L2636.2 1477.1L2633.0 1475.6L2630.8 1472.8L2630.0 1469.3L2630.8 1465.8L2633.0 1463.0L2636.2 1461.5L2639.8 1461.5L2643.0 1463.0L2645.2 1465.8ZM2644.9 1465.2L2654.4 1482.1L2641.6 1489.9L2631.1 1473.4ZM2655.5 1486.0L2654.8 1489.3L2652.7 1491.9L2649.7 1493.3L2646.3 1493.3L2643.3 1491.9L2641.2 1489.3L2640.5 1486.0L2641.2 1482.7L2643.3 1480.1L2646.3 1478.7L2649.7 1478.7L2652.7 1480.1L2654.8 1482.7ZM2655.5 1486.6L2653.9 1507.0L2638.9 1505.8L2640.5 1485.4ZM2653.9 1506.4L2653.2 1509.7L2651.1 1512.3L2648.1 1513.7L2644.7 1513.7L2641.7 1512.3L2639.6 1509.7L2638.9 1506.4L2639.6 1503.1L2641.7 1500.5L2644.7 1499.1L2648.1 1499.1L2651.1 1500.5L2653.2 1503.1ZM2653.9 1507.2L2648.7 1523.6L2640.7 1522.8L2638.9 1505.6ZM2648.7 1523.2L2648.3 1524.9L2647.2 1526.3L2645.6 1527.1L2643.8 1527.1L2642.2 1526.3L2641.1 1524.9L2640.7 1523.2L2641.1 1521.5L2642.2 1520.1L2643.8 1519.3L2645.6 1519.3L2647.2 1520.1L2648.3 1521.5ZM2648.5 1524.5L2647.9 1535.5L2634.7 1531.1L2640.9 1521.9ZM2648.3 1533.3L2647.6 1536.3L2645.7 1538.8L2642.9 1540.1L2639.7 1540.1L2636.9 1538.8L2635.0 1536.3L2634.3 1533.3L2635.0 1530.3L2636.9 1527.8L2639.7 1526.5L2642.9 1526.5L2645.7 1527.8L2647.6 1530.3ZM2648.3 1533.3L2647.6 1536.3L2645.7 1538.8L2642.9 1540.1L2639.7 1540.1L2636.9 1538.8L2635.0 1536.3L2634.3 1533.3L2635.0 1530.3L2636.9 1527.8L2639.7 1526.5L2642.9 1526.5L2645.7 1527.8L2647.6 1530.3ZM2643.9 1539.8L2627.5 1547.4L2621.5 1532.6L2638.7 1526.8ZM2632.5 1540.0L2631.7 1543.5L2629.5 1546.3L2626.3 1547.8L2622.7 1547.8L2619.5 1546.3L2617.3 1543.5L2616.5 1540.0L2617.3 1536.5L2619.5 1533.7L2622.7 1532.2L2626.3 1532.2L2629.5 1533.7L2631.7 1536.5ZM2631.7 1543.6L2621.6 1563.9L2607.2 1556.7L2617.3 1536.4ZM2622.4 1560.3L2621.6 1563.8L2619.4 1566.6L2616.2 1568.1L2612.6 1568.1L2609.4 1566.6L2607.2 1563.8L2606.4 1560.3L2607.2 1556.8L2609.4 1554.0L2612.6 1552.5L2616.2 1552.5L2619.4 1554.0L2621.6 1556.8ZM2622.3 1561.8L2617.2 1588.8L2601.4 1585.8L2606.5 1558.8ZM2617.3 1587.3L2616.5 1590.8L2614.3 1593.6L2611.1 1595.1L2607.5 1595.1L2604.3 1593.6L2602.1 1590.8L2601.3 1587.3L2602.1 1583.8L2604.3 1581.0L2607.5 1579.5L2611.1 1579.5L2614.3 1581.0L2616.5 1583.8ZM2617.1 1589.2L2611.6 1609.3L2597.0 1605.7L2601.5 1585.4ZM2611.8 1607.5L2611.1 1610.8L2609.0 1613.4L2606.0 1614.8L2602.6 1614.8L2599.6 1613.4L2597.5 1610.8L2596.8 1607.5L2597.5 1604.2L2599.6 1601.6L2602.6 1600.2L2606.0 1600.2L2609.0 1601.6L2611.1 1604.2ZM2611.0 1610.9L2601.3 1622.9L2593.7 1619.1L2597.6 1604.1ZM2601.8 1621.0L2601.3 1622.8L2600.1 1624.3L2598.4 1625.1L2596.6 1625.1L2594.9 1624.3L2593.7 1622.8L2593.2 1621.0L2593.7 1619.2L2594.9 1617.7L2596.6 1616.9L2598.4 1616.9L2600.1 1617.7L2601.3 1619.2ZM2586.2 1539.4L2586.0 1540.4L2585.4 1541.2L2584.5 1541.6L2583.5 1541.6L2582.6 1541.2L2582.0 1540.4L2581.8 1539.4L2582.0 1538.4L2582.6 1537.6L2583.5 1537.2L2584.5 1537.2L2585.4 1537.6L2586.0 1538.4ZM2584.0 1537.2L2601.0 1537.2L2601.0 1541.7L2584.0 1541.7ZM2603.2 1539.4L2603.0 1540.4L2602.4 1541.2L2601.5 1541.6L2600.5 1541.6L2599.6 1541.2L2599.0 1540.4L2598.8 1539.4L2599.0 1538.4L2599.6 1537.6L2600.5 1537.2L2601.5 1537.2L2602.4 1537.6L2603.0 1538.4ZM2647.3 1533.3L2646.7 1535.9L2645.0 1538.0L2642.6 1539.1L2640.0 1539.1L2637.6 1538.0L2635.9 1535.9L2635.3 1533.3L2635.9 1530.7L2637.6 1528.6L2640.0 1527.5L2642.6 1527.5L2645.0 1528.6L2646.7 1530.7ZM2644.6 1528.3L2654.9 1534.8L2647.9 1545.2L2638.0 1538.3ZM2657.7 1540.0L2657.0 1542.7L2655.3 1544.9L2652.8 1546.1L2650.0 1546.1L2647.5 1544.9L2645.8 1542.7L2645.2 1540.0L2645.8 1537.3L2647.5 1535.1L2650.0 1533.9L2652.8 1533.9L2655.3 1535.1L2657.0 1537.3ZM2657.2 1537.8L2667.4 1564.8L2655.8 1569.2L2645.6 1542.2ZM2667.8 1567.0L2667.2 1569.7L2665.5 1571.9L2663.0 1573.1L2660.2 1573.1L2657.7 1571.9L2656.0 1569.7L2655.3 1567.0L2656.0 1564.3L2657.7 1562.1L2660.2 1560.9L2663.0 1560.9L2665.5 1562.1L2667.2 1564.3ZM2666.5 1563.1L2679.9 1580.1L2670.1 1587.9L2656.7 1570.9ZM2681.2 1584.0L2680.6 1586.7L2678.9 1588.9L2676.4 1590.1L2673.6 1590.1L2671.1 1588.9L2669.4 1586.7L2668.8 1584.0L2669.4 1581.3L2671.1 1579.1L2673.6 1577.9L2676.4 1577.9L2678.9 1579.1L2680.6 1581.3ZM2678.5 1578.9L2695.3 1591.0L2688.7 1600.4L2671.5 1589.1ZM2697.8 1595.7L2697.2 1598.2L2695.6 1600.2L2693.3 1601.3L2690.7 1601.3L2688.4 1600.2L2686.8 1598.2L2686.2 1595.7L2686.8 1593.2L2688.4 1591.2L2690.7 1590.1L2693.3 1590.1L2695.6 1591.2L2697.2 1593.2ZM2681.9 1590.0L2681.4 1592.3L2680.0 1594.1L2677.9 1595.1L2675.5 1595.1L2673.4 1594.1L2672.0 1592.3L2671.4 1590.0L2672.0 1587.7L2673.4 1585.9L2675.5 1584.9L2677.9 1584.9L2680.0 1585.9L2681.4 1587.7ZM2681.9 1590.0L2679.7 1623.5L2673.7 1623.5L2671.4 1590.0ZM2679.7 1623.5L2679.4 1624.8L2678.6 1625.8L2677.4 1626.4L2676.0 1626.4L2674.8 1625.8L2674.0 1624.8L2673.7 1623.5L2674.0 1622.2L2674.8 1621.2L2676.0 1620.6L2677.4 1620.6L2678.6 1621.2L2679.4 1622.2ZM2610.0 1667.0L2609.6 1668.7L2608.5 1670.1L2606.9 1670.9L2605.1 1670.9L2603.5 1670.1L2602.4 1668.7L2602.0 1667.0L2602.4 1665.3L2603.5 1663.9L2605.1 1663.1L2606.9 1663.1L2608.5 1663.9L2609.6 1665.3ZM2610.0 1667.0L2609.5 1690.0L2602.5 1690.0L2602.0 1667.0ZM2609.5 1690.0L2609.2 1691.5L2608.2 1692.7L2606.8 1693.4L2605.2 1693.4L2603.8 1692.7L2602.8 1691.5L2602.5 1690.0L2602.8 1688.5L2603.8 1687.3L2605.2 1686.6L2606.8 1686.6L2608.2 1687.3L2609.2 1688.5ZM2684.0 1666.0L2683.6 1667.7L2682.5 1669.1L2680.9 1669.9L2679.1 1669.9L2677.5 1669.1L2676.4 1667.7L2676.0 1666.0L2676.4 1664.3L2677.5 1662.9L2679.1 1662.1L2680.9 1662.1L2682.5 1662.9L2683.6 1664.3ZM2684.0 1666.0L2683.5 1675.0L2676.5 1675.0L2676.0 1666.0ZM2683.5 1675.0L2683.2 1676.5L2682.2 1677.7L2680.8 1678.4L2679.2 1678.4L2677.8 1677.7L2676.8 1676.5L2676.5 1675.0L2676.8 1673.5L2677.8 1672.3L2679.2 1671.6L2680.8 1671.6L2682.2 1672.3L2683.2 1673.5Z"/></defs>
<g filter="url(#blur3)"><circle cx="2597.0" cy="1300.0" r="4.0" fill="#88aaff" opacity="0.40"/><circle cx="2660.0" cy="1400.0" r="4.0" fill="#88aaff" opacity="0.40"/><circle cx="2626.0" cy="1708.0" r="4.0" fill="#88aaff" opacity="0.60"/><circle cx="2618.0" cy="1722.0" r="4.0" fill="#99ffff" opacity="0.50"/><circle cx="2630.0" cy="1690.0" r="4.0" fill="#88aaff" opacity="0.40"/><circle cx="2715.0" cy="1625.0" r="4.0" fill="#88aaff" opacity="0.40"/></g>
<use href="#tree3" fill="#5f7cff" stroke="#5f7cff" stroke-width="24" stroke-linejoin="round" filter="url(#blur6)" opacity="0.8"/>
<use href="#tree3" fill="#a0f8ff" stroke="#a0f8ff" stroke-width="15" stroke-linejoin="round" filter="url(#blur3)"/>
<use href="#tree3" fill="#fff566" stroke="#fff566" stroke-width="7.5" stroke-linejoin="round" filter="url(#blur1)"/>
<use href="#tree3" fill="#f07a28" stroke="#f07a28" stroke-width="2.6" stroke-linejoin="round" filter="url(#soft)"/>
<use href="#tree3" fill="#be2222" stroke="#be2222" stroke-width="0.6" stroke-linejoin="round"/>
<path d="M2223.4 1337.5h119.6v63.0h-119.6zM2229.7 1346.7h107.0v44.6h-107.0zM2236.2 1356.3h94.0v25.6h-94.0zM2365.2 1337.5h119.6v63.0h-119.6zM2371.5 1346.7h107.0v44.6h-107.0zM2378.0 1356.3h94.0v25.6h-94.0zM2508.0 1337.5h119.6v63.0h-119.6zM2514.3 1346.7h107.0v44.6h-107.0zM2520.8 1356.3h94.0v25.6h-94.0zM2675.2 1337.5h119.6v63.0h-119.6zM2681.5 1346.7h107.0v44.6h-107.0zM2688.0 1356.3h94.0v25.6h-94.0zM2855.8 1337.5h119.6v63.0h-119.6zM2862.1 1346.7h107.0v44.6h-107.0zM2868.6 1356.3h94.0v25.6h-94.0zM2265.5 1467.0h119.6v63.0h-119.6zM2271.8 1476.2h107.0v44.6h-107.0zM2278.3 1485.8h94.0v25.6h-94.0zM2446.0 1467.0h119.6v63.0h-119.6zM2452.3 1476.2h107.0v44.6h-107.0zM2458.8 1485.8h94.0v25.6h-94.0zM2589.0 1467.0h119.6v63.0h-119.6zM2595.3 1476.2h107.0v44.6h-107.0zM2601.8 1485.8h94.0v25.6h-94.0zM2731.8 1467.0h119.6v63.0h-119.6zM2738.1 1476.2h107.0v44.6h-107.0zM2744.6 1485.8h94.0v25.6h-94.0zM2887.0 1467.0h119.6v63.0h-119.6zM2893.3 1476.2h107.0v44.6h-107.0zM2899.8 1485.8h94.0v25.6h-94.0zM2223.4 1598.0h119.6v63.0h-119.6zM2229.7 1607.2h107.0v44.6h-107.0zM2236.2 1616.8h94.0v25.6h-94.0zM2365.2 1598.0h119.6v63.0h-119.6zM2371.5 1607.2h107.0v44.6h-107.0zM2378.0 1616.8h94.0v25.6h-94.0zM2508.0 1598.0h119.6v63.0h-119.6zM2514.3 1607.2h107.0v44.6h-107.0zM2520.8 1616.8h94.0v25.6h-94.0zM2675.2 1598.0h119.6v63.0h-119.6zM2681.5 1607.2h107.0v44.6h-107.0zM2688.0 1616.8h94.0v25.6h-94.0zM2855.8 1598.0h119.6v63.0h-119.6zM2862.1 1607.2h107.0v44.6h-107.0zM2868.6 1616.8h94.0v25.6h-94.0zM2265.5 1727.4h119.6v63.0h-119.6zM2271.8 1736.6h107.0v44.6h-107.0zM2278.3 1746.2h94.0v25.6h-94.0zM2446.0 1727.4h119.6v63.0h-119.6zM2452.3 1736.6h107.0v44.6h-107.0zM2458.8 1746.2h94.0v25.6h-94.0zM2589.0 1727.4h119.6v63.0h-119.6zM2595.3 1736.6h107.0v44.6h-107.0zM2601.8 1746.2h94.0v25.6h-94.0zM2731.8 1727.4h119.6v63.0h-119.6zM2738.1 1736.6h107.0v44.6h-107.0zM2744.6 1746.2h94.0v25.6h-94.0zM2887.0 1727.4h119.6v63.0h-119.6zM2893.3 1736.6h107.0v44.6h-107.0zM2899.8 1746.2h94.0v25.6h-94.0zM2223.4 1857.8h119.6v63.0h-119.6zM2229.7 1867.0h107.0v44.6h-107.0zM2236.2 1876.6h94.0v25.6h-94.0zM2365.2 1857.8h119.6v63.0h-119.6zM2371.5 1867.0h107.0v44.6h-107.0zM2378.0 1876.6h94.0v25.6h-94.0zM2508.0 1857.8h119.6v63.0h-119.6zM2514.3 1867.0h107.0v44.6h-107.0zM2520.8 1876.6h94.0v25.6h-94.0zM2675.2 1857.8h119.6v63.0h-119.6zM2681.5 1867.0h107.0v44.6h-107.0zM2688.0 1876.6h94.0v25.6h-94.0zM2855.8 1857.8h119.6v63.0h-119.6zM2862.1 1867.0h107.0v44.6h-107.0zM2868.6 1876.6h94.0v25.6h-94.0z" fill="none" stroke="#dcdcf5" stroke-opacity="0.52" stroke-width="2.6"/>
<path d="M2220.0 1282.1C2240.6 1282.9 2309.1 1284.2 2343.8 1287.0C2378.5 1289.9 2405.7 1294.1 2428.0 1299.4C2450.3 1304.8 2465.5 1311.0 2477.5 1319.2C2489.5 1327.5 2494.8 1338.2 2499.8 1348.9C2504.7 1359.7 2502.7 1373.7 2507.2 1383.6C2511.7 1393.5 2520.4 1399.3 2527.0 1408.4C2533.6 1417.4 2541.9 1426.5 2546.8 1438.1C2551.8 1449.6 2554.2 1464.5 2556.7 1477.7C2559.2 1490.9 2560.0 1504.1 2561.7 1517.3C2563.3 1530.5 2564.1 1543.7 2566.6 1556.9C2569.1 1570.1 2572.4 1584.1 2576.5 1596.5C2580.7 1608.9 2586.8 1625.4 2591.4 1631.2C2595.9 1637.0 2599.6 1634.3 2603.8 1631.2C2607.9 1628.0 2609.9 1616.5 2616.1 1612.4C2622.3 1608.2 2632.6 1605.8 2640.9 1606.4C2649.1 1607.1 2659.1 1611.8 2665.7 1616.3C2672.3 1620.9 2676.4 1632.8 2680.5 1633.7C2684.6 1634.5 2687.8 1629.1 2690.4 1621.3C2693.1 1613.4 2694.7 1608.9 2696.4 1586.6C2698.0 1564.3 2698.4 1514.0 2700.3 1487.6C2702.2 1461.2 2703.6 1444.7 2707.7 1428.2C2711.9 1411.7 2717.2 1404.2 2725.1 1388.6C2732.9 1372.9 2739.9 1347.3 2754.8 1334.1C2769.6 1320.9 2787.8 1316.8 2814.2 1309.3C2840.6 1301.9 2875.6 1293.0 2913.2 1289.5C2950.9 1286.1 3018.9 1288.7 3040.0 1288.5" fill="none" stroke="#8a3a6a" stroke-width="2.2" stroke-opacity="0.68"/>
<path d="M2220.0 1400.9C2232.4 1401.3 2269.5 1400.5 2294.3 1403.4C2319.0 1406.3 2346.3 1410.8 2368.6 1418.3C2390.8 1425.7 2411.5 1436.4 2428.0 1448.0C2444.5 1459.5 2456.0 1472.7 2467.6 1487.6C2479.1 1502.4 2489.0 1520.6 2497.3 1537.1C2505.5 1553.6 2509.7 1570.9 2517.1 1586.6C2524.5 1602.3 2532.0 1618.8 2541.9 1631.2C2551.8 1643.6 2565.8 1654.1 2576.5 1660.9C2587.3 1667.7 2595.5 1671.6 2606.2 1671.8C2617.0 1672.0 2628.5 1661.9 2640.9 1661.9C2653.3 1661.9 2668.1 1672.0 2680.5 1671.8C2692.9 1671.6 2702.8 1669.3 2715.2 1660.9C2727.6 1652.5 2744.1 1637.8 2754.8 1621.3C2765.5 1604.8 2771.3 1582.5 2779.5 1561.9C2787.8 1541.2 2793.6 1516.5 2804.3 1497.5C2815.0 1478.5 2825.8 1461.2 2843.9 1448.0C2862.1 1434.8 2889.3 1427.3 2913.2 1418.3C2937.2 1409.2 2966.4 1399.3 2987.5 1393.5C3008.6 1387.7 3031.3 1385.3 3040.0 1383.6" fill="none" stroke="#b04868" stroke-width="2.2" stroke-opacity="0.68"/>
<path d="M2220.0 1485.1C2228.3 1485.1 2253.0 1483.0 2269.5 1485.1C2286.0 1487.2 2300.1 1489.6 2319.0 1497.5C2338.0 1505.3 2362.8 1518.9 2383.4 1532.2C2404.0 1545.4 2425.5 1561.0 2442.8 1576.7C2460.2 1592.4 2473.4 1611.4 2487.4 1626.2C2501.4 1641.1 2513.8 1654.3 2527.0 1665.8C2540.2 1677.4 2553.4 1688.5 2566.6 1695.6C2579.8 1702.6 2593.9 1706.7 2606.2 1707.9C2618.6 1709.2 2626.9 1705.9 2640.9 1703.0C2654.9 1700.1 2673.9 1697.6 2690.4 1690.6C2706.9 1683.6 2723.4 1673.3 2739.9 1660.9C2756.4 1648.5 2774.6 1632.8 2789.4 1616.3C2804.3 1599.8 2814.2 1577.5 2829.1 1561.9C2843.9 1546.2 2860.4 1533.0 2878.6 1522.2C2896.7 1511.5 2911.1 1503.4 2938.0 1497.5C2964.9 1491.5 3023.0 1488.4 3040.0 1486.6" fill="none" stroke="#c08070" stroke-width="2.2" stroke-opacity="0.68"/>
<path d="M2220.0 1561.9C2232.4 1563.5 2269.5 1566.0 2294.3 1571.8C2319.0 1577.5 2347.9 1586.6 2368.6 1596.5C2389.2 1606.4 2401.6 1619.6 2418.1 1631.2C2434.6 1642.7 2451.1 1655.1 2467.6 1665.8C2484.1 1676.6 2498.9 1686.5 2517.1 1695.6C2535.3 1704.6 2560.0 1715.4 2576.5 1720.3C2593.0 1725.3 2601.3 1725.7 2616.1 1725.3C2631.0 1724.9 2649.1 1721.1 2665.7 1717.8C2682.2 1714.5 2698.7 1711.7 2715.2 1705.5C2731.7 1699.3 2748.2 1691.4 2764.7 1680.7C2781.2 1670.0 2800.2 1653.5 2814.2 1641.1C2828.2 1628.7 2832.4 1615.5 2848.9 1606.4C2865.4 1597.3 2890.1 1591.2 2913.2 1586.6C2936.3 1582.1 2966.4 1581.3 2987.5 1579.2C3008.6 1577.1 3031.3 1575.1 3040.0 1574.2" fill="none" stroke="#c0a088" stroke-width="2.2" stroke-opacity="0.68"/>
<path d="M2220.0 1660.9C2232.4 1661.7 2269.5 1662.5 2294.3 1665.8C2319.0 1669.1 2343.8 1674.1 2368.6 1680.7C2393.3 1687.3 2422.2 1697.2 2442.8 1705.5C2463.5 1713.7 2475.8 1721.1 2492.3 1730.2C2508.9 1739.3 2525.4 1752.5 2541.9 1759.9C2558.4 1767.4 2574.9 1772.3 2591.4 1774.8C2607.9 1777.3 2624.4 1776.4 2640.9 1774.8C2657.4 1773.1 2676.4 1770.7 2690.4 1764.9C2704.4 1759.1 2712.7 1748.4 2725.1 1740.1C2737.5 1731.9 2749.8 1722.8 2764.7 1715.4C2779.5 1707.9 2793.6 1703.0 2814.2 1695.6C2834.8 1688.1 2863.7 1677.8 2888.5 1670.8C2913.2 1663.8 2937.5 1657.6 2962.8 1653.5C2988.0 1649.3 3027.1 1647.3 3040.0 1646.0" fill="none" stroke="#b0b8a8" stroke-width="2.2" stroke-opacity="0.68"/>
<path d="M2220.0 1717.8C2232.4 1716.6 2269.5 1710.0 2294.3 1710.4C2319.0 1710.8 2352.0 1716.2 2368.6 1720.3C2385.1 1724.4 2382.6 1727.7 2393.3 1735.2C2404.0 1742.6 2418.9 1755.8 2432.9 1764.9C2447.0 1774.0 2459.3 1783.0 2477.5 1789.6C2495.6 1796.2 2518.8 1800.4 2541.9 1804.5C2565.0 1808.6 2595.5 1813.6 2616.1 1814.4C2636.8 1815.2 2645.0 1813.6 2665.7 1809.4C2686.3 1805.3 2715.2 1797.1 2739.9 1789.6C2764.7 1782.2 2795.2 1774.0 2814.2 1764.9C2833.2 1755.8 2841.4 1741.8 2853.8 1735.2C2866.2 1728.6 2870.3 1728.6 2888.5 1725.3C2906.6 1722.0 2937.5 1717.4 2962.8 1715.4C2988.0 1713.3 3027.1 1713.3 3040.0 1712.9" fill="none" stroke="#90b8d0" stroke-width="2.2" stroke-opacity="0.68"/>
<path d="M2220.0 1774.8C2228.3 1776.4 2248.9 1780.6 2269.5 1784.7C2290.1 1788.8 2319.0 1796.7 2343.8 1799.5C2368.6 1802.4 2393.3 1798.7 2418.1 1802.0C2442.8 1805.3 2467.6 1814.0 2492.3 1819.4C2517.1 1824.7 2541.9 1830.5 2566.6 1834.2C2591.4 1837.9 2616.1 1842.0 2640.9 1841.6C2665.7 1841.2 2686.3 1836.3 2715.2 1831.7C2744.1 1827.2 2781.2 1818.9 2814.2 1814.4C2847.2 1809.9 2884.4 1807.8 2913.2 1804.5C2942.1 1801.2 2966.4 1798.3 2987.5 1794.6C3008.6 1790.9 3031.3 1784.3 3040.0 1782.2" fill="none" stroke="#6098e0" stroke-width="2.2" stroke-opacity="0.68"/>
<path d="M2220.0 1826.8C2236.5 1827.2 2286.0 1828.0 2319.0 1829.3C2352.0 1830.5 2391.7 1831.7 2418.1 1834.2C2444.5 1836.7 2456.9 1839.2 2477.5 1844.1C2498.1 1849.1 2518.8 1858.1 2541.9 1863.9C2565.0 1869.7 2595.5 1875.9 2616.1 1878.8C2636.8 1881.7 2649.1 1882.9 2665.7 1881.2C2682.2 1879.6 2694.5 1873.4 2715.2 1868.9C2735.8 1864.3 2764.7 1858.6 2789.4 1854.0C2814.2 1849.5 2834.8 1843.7 2863.7 1841.6C2892.6 1839.6 2933.4 1842.0 2962.8 1841.6C2992.1 1841.2 3027.1 1839.6 3040.0 1839.2" fill="none" stroke="#5080e8" stroke-width="2.2" stroke-opacity="0.64"/>
<path d="M2220.0 1903.5C2236.5 1904.4 2286.0 1905.2 2319.0 1908.5C2352.0 1911.8 2385.1 1920.0 2418.1 1923.3C2451.1 1926.6 2484.1 1927.9 2517.1 1928.3C2550.1 1928.7 2583.1 1925.4 2616.1 1925.8C2649.1 1926.2 2682.2 1930.4 2715.2 1930.8C2748.2 1931.2 2781.2 1931.2 2814.2 1928.3C2847.2 1925.4 2884.4 1917.1 2913.2 1913.4C2942.1 1909.7 2966.4 1909.3 2987.5 1906.0C3008.6 1902.7 3031.3 1895.7 3040.0 1893.6" fill="none" stroke="#4868d8" stroke-width="2.2" stroke-opacity="0.56"/>
</g>
<path d="M1527 480.5 L1716 480.5 L1716 458 L1833 502.3 L1716 546.5 L1716 525 L1527 525 Z" fill="#00aeef"/>
<path d="M955.6 886 L999.7 886 L999.7 1048.4 L1021.3 1048.4 L977.8 1161.5 L934.7 1048.4 L955.6 1048.4 Z" fill="#00aeef"/>
<path d="M2601.5 1163.5 L2601.5 1029.7 L2578.4 1029.7 L2625.3 906.5 L2672.5 1029.7 L2648.7 1029.7 L2648.7 1163.5 Z" fill="#00aeef"/>
<text x="754.0" y="1211.8" font-size="68.0" class="b" fill="#000" text-anchor="start" textLength="417.0" lengthAdjust="spacingAndGlyphs" >MXene/PVDF</text>
<text x="1492.5" y="1213.5" font-size="68.0" class="b" fill="#000" text-anchor="start" textLength="617.0" lengthAdjust="spacingAndGlyphs" >MXene@PDA/PVDF</text>
<text x="2311.5" y="1218.0" font-size="68.0" class="b" fill="#000" text-anchor="start" textLength="695.5" lengthAdjust="spacingAndGlyphs" >O-MXene@PDA/PVDF</text>
<text x="569" y="2072.8" font-size="71" class="b" fill="#c55a11" textLength="2436" lengthAdjust="spacingAndGlyphs" xml:space="preserve">Simultaneously promoted <tspan class="i">ε</tspan> and <tspan class="i">E</tspan><tspan font-size="46" dy="14" font-weight="normal">b</tspan><tspan dy="-14"> but  reduced loss in O-MXene@PDA/PVDF</tspan></text>
</svg></body></html>
